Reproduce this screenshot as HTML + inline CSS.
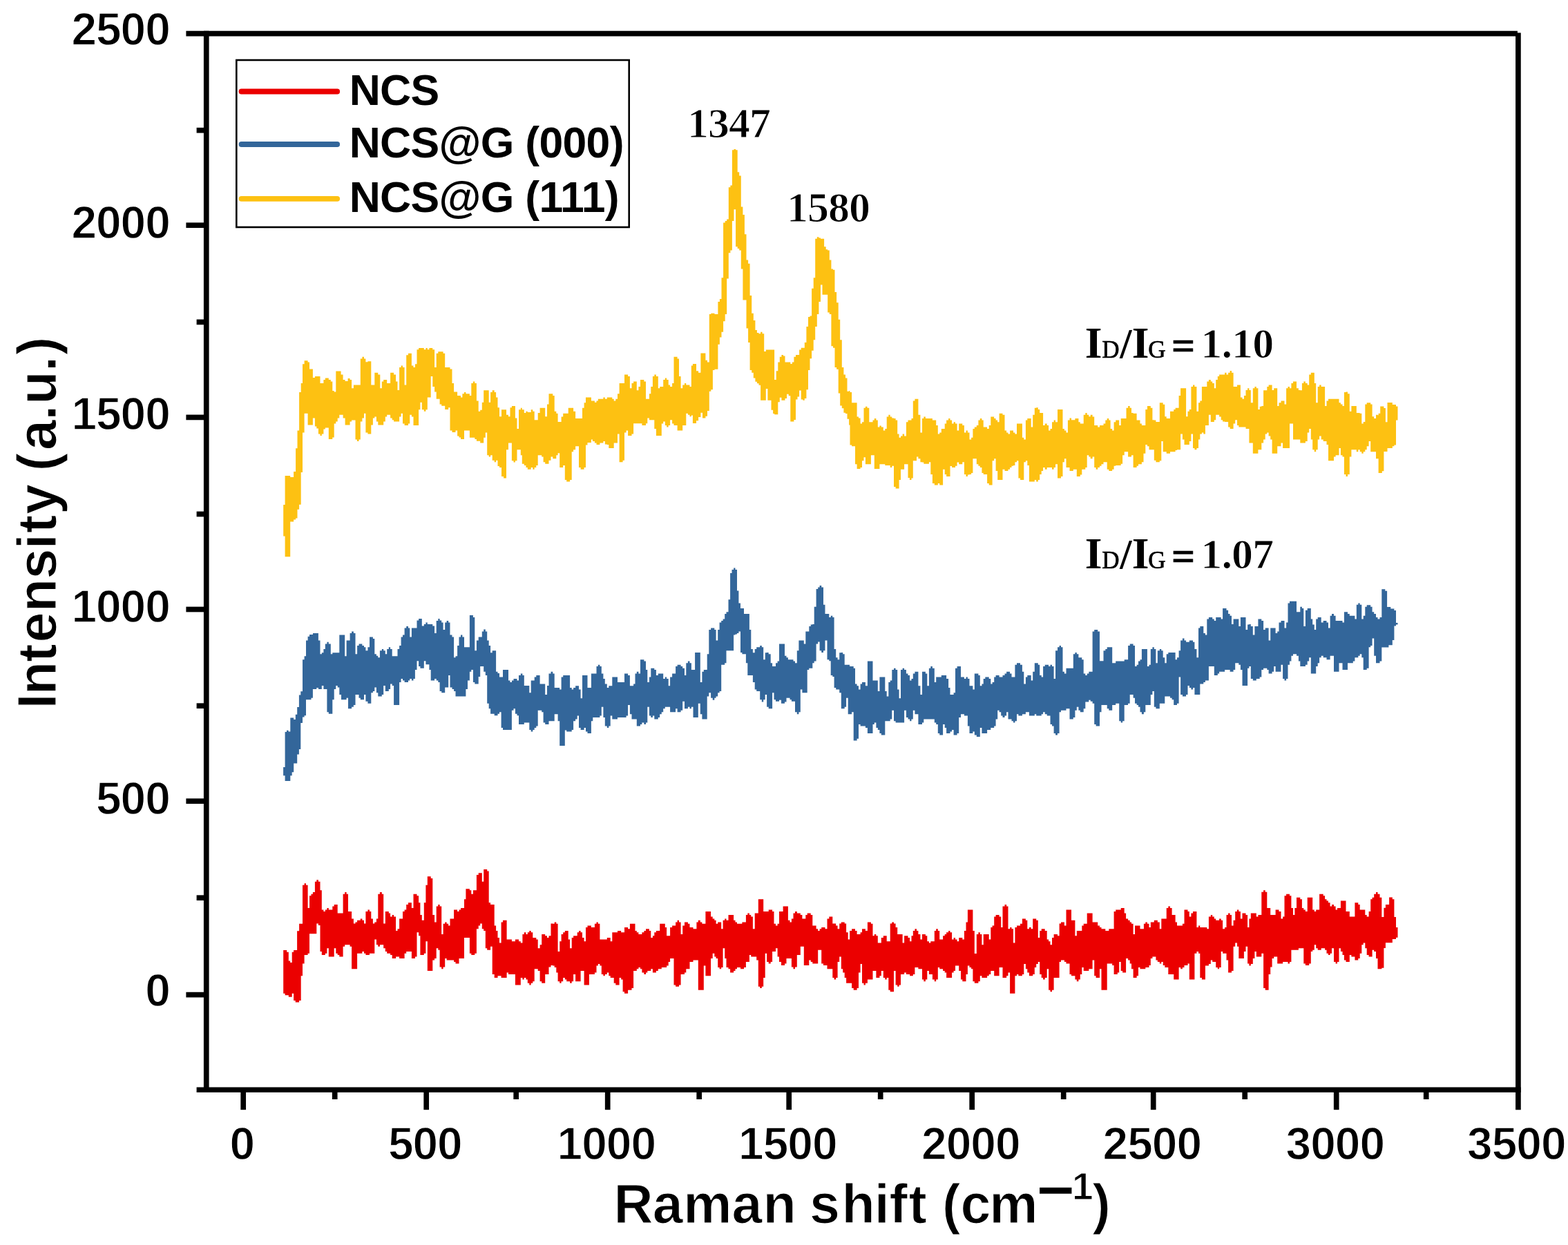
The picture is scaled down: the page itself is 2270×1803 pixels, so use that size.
<!DOCTYPE html>
<html lang="en"><head><meta charset="utf-8"><title>Raman spectra</title>
<style>html,body{margin:0;padding:0;background:#fff}svg{display:block}.t{font-family:"Liberation Sans",sans-serif;font-weight:bold;fill:#000}.k{stroke:#fff;stroke-width:1.3px;stroke-linejoin:round}.s{font-family:"Liberation Serif",serif;font-weight:bold;fill:#000}</style></head><body>
<svg width="2270" height="1803" viewBox="0 0 2270 1803">
<rect x="0" y="0" width="2270" height="1803" fill="#ffffff"/>
<g transform="translate(0.3,0.5)">
<path d="M409.9,1375.6 412.3,1375.6 412.3,1375.6 414.9,1375.6 414.9,1378.2 417.5,1378.2 417.5,1390.9 419.9,1390.9 419.9,1393.5 422.4,1393.5 422.4,1378.2 424.8,1378.2 424.8,1375.6 427.4,1375.6 427.4,1375.6 429.8,1375.6 429.8,1347.8 432.8,1347.8 432.8,1337.3 435.4,1337.3 435.4,1337.3 437.7,1337.3 437.7,1281.3 440.3,1281.3 440.3,1278.7 442.7,1278.7 442.7,1281.3 445.3,1281.3 445.3,1314.5 447.7,1314.5 447.7,1296.8 450.2,1296.8 450.2,1294.2 452.6,1294.2 452.6,1291.6 455.6,1291.6 455.6,1276.3 458.0,1276.3 458.0,1273.7 460.6,1273.7 460.6,1276.3 463.2,1276.3 463.2,1288.8 465.5,1288.8 465.5,1317.0 468.1,1317.0 468.1,1319.6 470.5,1319.6 470.5,1317.0 473.1,1317.0 473.1,1314.5 475.5,1314.5 475.5,1317.0 478.5,1317.0 478.5,1317.0 481.0,1317.0 481.0,1312.1 483.4,1312.1 483.4,1309.5 486.0,1309.5 486.0,1309.5 488.4,1309.5 488.4,1322.0 491.0,1322.0 491.0,1322.0 493.7,1322.0 493.7,1322.0 496.3,1322.0 496.3,1294.2 498.9,1294.2 498.9,1291.6 501.3,1291.6 501.3,1294.2 503.7,1294.2 503.7,1319.6 506.3,1319.6 506.3,1319.6 508.8,1319.6 508.8,1330.0 511.6,1330.0 511.6,1336.9 514.2,1336.9 514.2,1334.9 516.8,1334.9 516.8,1332.3 519.2,1332.3 519.2,1332.3 521.5,1332.3 521.5,1330.0 524.1,1330.0 524.1,1332.3 526.7,1332.3 526.7,1336.9 529.1,1336.9 529.1,1319.6 532.1,1319.6 532.1,1317.0 534.7,1317.0 534.7,1319.6 537.0,1319.6 537.0,1330.0 539.6,1330.0 539.6,1336.9 542.0,1336.9 542.0,1334.9 544.6,1334.9 544.6,1330.0 547.0,1330.0 547.0,1294.2 549.6,1294.2 549.6,1291.6 552.5,1291.6 552.5,1294.2 554.9,1294.2 554.9,1336.9 557.5,1336.9 557.5,1319.6 559.9,1319.6 559.9,1319.6 562.5,1319.6 562.5,1322.0 564.8,1322.0 564.8,1327.0 567.4,1327.0 567.4,1324.6 569.8,1324.6 569.8,1327.0 572.8,1327.0 572.8,1347.4 575.2,1347.4 575.2,1344.8 577.8,1344.8 577.8,1330.0 580.3,1330.0 580.3,1330.0 582.7,1330.0 582.7,1319.6 585.3,1319.6 585.3,1317.0 587.9,1317.0 587.9,1309.5 590.7,1309.5 590.7,1306.7 593.0,1306.7 593.0,1306.7 595.6,1306.7 595.6,1314.5 598.2,1314.5 598.2,1294.2 600.6,1294.2 600.6,1294.2 603.2,1294.2 603.2,1296.8 605.8,1296.8 605.8,1306.7 608.1,1306.7 608.1,1324.6 610.5,1324.6 610.5,1332.3 613.5,1332.3 613.5,1306.7 616.1,1306.7 616.1,1281.3 618.5,1281.3 618.5,1268.8 621.1,1268.8 621.1,1268.8 623.4,1268.8 623.4,1271.4 626.0,1271.4 626.0,1324.6 628.8,1324.6 628.8,1334.9 631.4,1334.9 631.4,1312.1 634.0,1312.1 634.0,1309.5 636.3,1309.5 636.3,1312.1 638.9,1312.1 638.9,1352.4 641.3,1352.4 641.3,1337.3 643.9,1337.3 643.9,1334.9 646.3,1334.9 646.3,1337.3 648.9,1337.3 648.9,1339.9 651.2,1339.9 651.2,1330.0 654.2,1330.0 654.2,1330.0 656.8,1330.0 656.8,1317.0 659.2,1317.0 659.2,1317.0 661.8,1317.0 661.8,1319.6 664.2,1319.6 664.2,1317.0 666.7,1317.0 666.7,1314.5 669.1,1314.5 669.1,1314.5 671.7,1314.5 671.7,1301.7 674.1,1301.7 674.1,1286.7 676.7,1286.7 676.7,1286.7 679.6,1286.7 679.6,1288.8 682.0,1288.8 682.0,1294.2 684.6,1294.2 684.6,1288.8 687.0,1288.8 687.0,1288.8 689.6,1288.8 689.6,1266.4 692.4,1266.4 692.4,1263.8 694.9,1263.8 694.9,1263.8 697.5,1263.8 697.5,1276.3 699.9,1276.3 699.9,1258.5 702.5,1258.5 702.5,1258.5 704.9,1258.5 704.9,1261.0 707.4,1261.0 707.4,1306.7 709.8,1306.7 709.8,1309.5 712.4,1309.5 712.4,1309.5 715.4,1309.5 715.4,1339.9 717.8,1339.9 717.8,1347.4 720.2,1347.4 720.2,1357.4 722.7,1357.4 722.7,1365.1 725.3,1365.1 725.3,1334.9 727.7,1334.9 727.7,1332.3 730.7,1332.3 730.7,1332.3 733.3,1332.3 733.3,1360.1 735.7,1360.1 735.7,1360.1 738.2,1360.1 738.2,1360.1 740.6,1360.1 740.6,1362.7 743.2,1362.7 743.2,1362.7 745.6,1362.7 745.6,1360.1 748.2,1360.1 748.2,1360.1 750.7,1360.1 750.7,1362.7 753.5,1362.7 753.5,1365.1 756.1,1365.1 756.1,1352.4 758.5,1352.4 758.5,1349.8 761.1,1349.8 761.1,1352.4 763.5,1352.4 763.5,1349.8 766.0,1349.8 766.0,1347.4 768.4,1347.4 768.4,1349.8 771.0,1349.8 771.0,1357.4 773.4,1357.4 773.4,1357.4 776.0,1357.4 776.0,1360.1 778.4,1360.1 778.4,1372.7 781.3,1372.7 781.3,1367.7 783.9,1367.7 783.9,1352.4 786.3,1352.4 786.3,1352.4 788.9,1352.4 788.9,1354.8 791.7,1354.8 791.7,1357.4 794.2,1357.4 794.2,1354.8 797.2,1354.8 797.2,1336.9 800.0,1336.9 800.0,1337.3 802.4,1337.3 802.4,1334.9 805.0,1334.9 805.0,1337.3 807.3,1337.3 807.3,1377.6 809.9,1377.6 809.9,1362.7 812.3,1362.7 812.3,1352.4 814.9,1352.4 814.9,1349.8 817.5,1349.8 817.5,1347.4 819.9,1347.4 819.9,1347.4 822.4,1347.4 822.4,1360.1 824.8,1360.1 824.8,1372.7 827.4,1372.7 827.4,1357.4 829.8,1357.4 829.8,1354.8 832.8,1354.8 832.8,1354.8 835.4,1354.8 835.4,1349.8 837.7,1349.8 837.7,1347.4 840.3,1347.4 840.3,1349.8 842.7,1349.8 842.7,1357.4 845.3,1357.4 845.3,1362.7 847.7,1362.7 847.7,1342.5 850.2,1342.5 850.2,1339.9 852.6,1339.9 852.6,1339.9 855.6,1339.9 855.6,1342.5 858.0,1342.5 858.0,1342.5 860.6,1342.5 860.6,1337.3 863.2,1337.3 863.2,1334.9 865.5,1334.9 865.5,1337.3 868.1,1337.3 868.1,1360.1 870.5,1360.1 870.5,1360.1 873.1,1360.1 873.1,1360.1 875.5,1360.1 875.5,1360.1 878.5,1360.1 878.5,1357.4 881.0,1357.4 881.0,1357.4 883.4,1357.4 883.4,1362.7 886.0,1362.7 886.0,1349.8 888.4,1349.8 888.4,1349.8 891.0,1349.8 891.0,1349.8 893.7,1349.8 893.7,1347.4 896.3,1347.4 896.3,1347.4 898.9,1347.4 898.9,1349.8 901.3,1349.8 901.3,1349.8 903.7,1349.8 903.7,1342.5 906.3,1342.5 906.3,1342.5 908.8,1342.5 908.8,1344.8 911.6,1344.8 911.6,1337.3 914.2,1337.3 914.2,1337.3 916.8,1337.3 916.8,1337.3 919.2,1337.3 919.2,1347.4 921.5,1347.4 921.5,1349.8 924.1,1349.8 924.1,1352.4 926.7,1352.4 926.7,1352.4 929.1,1352.4 929.1,1349.8 932.1,1349.8 932.1,1347.4 934.7,1347.4 934.7,1344.8 937.0,1344.8 937.0,1344.8 939.6,1344.8 939.6,1347.4 942.0,1347.4 942.0,1357.4 944.6,1357.4 944.6,1354.8 947.0,1354.8 947.0,1349.8 949.6,1349.8 949.6,1347.4 952.5,1347.4 952.5,1347.4 954.9,1347.4 954.9,1337.3 957.5,1337.3 957.5,1337.3 959.9,1337.3 959.9,1337.3 962.5,1337.3 962.5,1342.5 964.8,1342.5 964.8,1354.8 967.4,1354.8 967.4,1354.8 969.8,1354.8 969.8,1342.5 972.8,1342.5 972.8,1339.9 975.2,1339.9 975.2,1339.9 977.8,1339.9 977.8,1334.9 980.3,1334.9 980.3,1332.3 982.7,1332.3 982.7,1334.9 985.3,1334.9 985.3,1352.4 987.9,1352.4 987.9,1339.9 990.7,1339.9 990.7,1334.9 993.0,1334.9 993.0,1334.9 995.6,1334.9 995.6,1337.3 998.2,1337.3 998.2,1342.5 1000.6,1342.5 1000.6,1342.5 1003.2,1342.5 1003.2,1344.8 1005.8,1344.8 1005.8,1344.8 1008.1,1344.8 1008.1,1334.9 1010.5,1334.9 1010.5,1332.3 1013.5,1332.3 1013.5,1334.9 1016.1,1334.9 1016.1,1337.3 1018.5,1337.3 1018.5,1337.3 1021.1,1337.3 1021.1,1319.6 1023.4,1319.6 1023.4,1319.6 1026.0,1319.6 1026.0,1319.6 1028.8,1319.6 1028.8,1327.0 1031.4,1327.0 1031.4,1330.0 1034.0,1330.0 1034.0,1332.3 1036.3,1332.3 1036.3,1337.3 1038.9,1337.3 1038.9,1334.9 1041.3,1334.9 1041.3,1334.9 1043.9,1334.9 1043.9,1344.8 1046.3,1344.8 1046.3,1332.3 1048.9,1332.3 1048.9,1330.0 1051.2,1330.0 1051.2,1332.3 1054.2,1332.3 1054.2,1324.6 1056.8,1324.6 1056.8,1324.6 1059.2,1324.6 1059.2,1324.6 1061.8,1324.6 1061.8,1332.3 1064.2,1332.3 1064.2,1334.9 1066.7,1334.9 1066.7,1337.3 1069.1,1337.3 1069.1,1337.3 1071.7,1337.3 1071.7,1337.3 1074.1,1337.3 1074.1,1334.9 1076.7,1334.9 1076.7,1334.9 1079.6,1334.9 1079.6,1324.6 1082.0,1324.6 1082.0,1322.0 1084.6,1322.0 1084.6,1324.6 1087.0,1324.6 1087.0,1327.0 1089.6,1327.0 1089.6,1344.8 1092.4,1344.8 1092.4,1322.0 1094.9,1322.0 1094.9,1322.0 1097.5,1322.0 1097.5,1301.7 1099.9,1301.7 1099.9,1301.7 1102.5,1301.7 1102.5,1301.7 1104.9,1301.7 1104.9,1319.6 1107.4,1319.6 1107.4,1319.6 1109.8,1319.6 1109.8,1319.6 1112.4,1319.6 1112.4,1317.0 1115.4,1317.0 1115.4,1317.0 1117.8,1317.0 1117.8,1319.6 1120.2,1319.6 1120.2,1337.3 1122.7,1337.3 1122.7,1339.9 1125.3,1339.9 1125.3,1337.3 1127.7,1337.3 1127.7,1319.6 1130.7,1319.6 1130.7,1319.6 1133.3,1319.6 1133.3,1312.1 1135.7,1312.1 1135.7,1312.1 1138.2,1312.1 1138.2,1312.1 1140.6,1312.1 1140.6,1332.3 1143.2,1332.3 1143.2,1334.9 1145.6,1334.9 1145.6,1330.0 1148.2,1330.0 1148.2,1322.0 1150.7,1322.0 1150.7,1319.6 1153.5,1319.6 1153.5,1322.0 1156.1,1322.0 1156.1,1322.0 1158.5,1322.0 1158.5,1324.6 1161.1,1324.6 1161.1,1330.0 1163.5,1330.0 1163.5,1330.0 1166.0,1330.0 1166.0,1324.6 1168.4,1324.6 1168.4,1322.0 1171.0,1322.0 1171.0,1322.0 1173.4,1322.0 1173.4,1324.6 1176.0,1324.6 1176.0,1339.9 1178.4,1339.9 1178.4,1339.9 1181.3,1339.9 1181.3,1344.8 1183.9,1344.8 1183.9,1347.4 1186.3,1347.4 1186.3,1344.8 1188.9,1344.8 1188.9,1342.5 1191.7,1342.5 1191.7,1342.5 1194.2,1342.5 1194.2,1344.8 1197.2,1344.8 1197.2,1330.0 1200.0,1330.0 1200.0,1327.0 1202.4,1327.0 1202.4,1327.0 1205.0,1327.0 1205.0,1336.9 1207.3,1336.9 1207.3,1336.9 1209.9,1336.9 1209.9,1339.9 1212.3,1339.9 1212.3,1344.8 1214.9,1344.8 1214.9,1336.9 1217.5,1336.9 1217.5,1334.9 1219.9,1334.9 1219.9,1334.9 1222.4,1334.9 1222.4,1336.9 1224.8,1336.9 1224.8,1349.8 1227.4,1349.8 1227.4,1360.1 1229.8,1360.1 1229.8,1347.4 1232.8,1347.4 1232.8,1344.8 1235.4,1344.8 1235.4,1344.8 1237.7,1344.8 1237.7,1347.4 1240.3,1347.4 1240.3,1352.4 1242.7,1352.4 1242.7,1352.4 1245.3,1352.4 1245.3,1349.8 1247.7,1349.8 1247.7,1344.8 1250.2,1344.8 1250.2,1344.8 1252.6,1344.8 1252.6,1347.4 1255.6,1347.4 1255.6,1334.9 1258.0,1334.9 1258.0,1334.9 1260.6,1334.9 1260.6,1337.3 1263.2,1337.3 1263.2,1354.8 1265.5,1354.8 1265.5,1352.4 1268.1,1352.4 1268.1,1354.8 1270.5,1354.8 1270.5,1365.1 1273.1,1365.1 1273.1,1365.1 1275.5,1365.1 1275.5,1357.4 1278.5,1357.4 1278.5,1354.8 1281.0,1354.8 1281.0,1354.8 1283.4,1354.8 1283.4,1362.7 1286.0,1362.7 1286.0,1362.7 1288.4,1362.7 1288.4,1336.9 1291.0,1336.9 1291.0,1334.9 1293.7,1334.9 1293.7,1336.9 1296.3,1336.9 1296.3,1342.5 1298.9,1342.5 1298.9,1352.4 1301.3,1352.4 1301.3,1352.4 1303.7,1352.4 1303.7,1352.4 1306.3,1352.4 1306.3,1365.1 1308.8,1365.1 1308.8,1354.8 1311.6,1354.8 1311.6,1354.8 1314.2,1354.8 1314.2,1357.4 1316.8,1357.4 1316.8,1362.7 1319.2,1362.7 1319.2,1354.8 1321.5,1354.8 1321.5,1347.4 1324.1,1347.4 1324.1,1344.8 1326.7,1344.8 1326.7,1347.4 1329.1,1347.4 1329.1,1352.4 1332.1,1352.4 1332.1,1360.1 1334.7,1360.1 1334.7,1352.4 1337.0,1352.4 1337.0,1352.4 1339.6,1352.4 1339.6,1354.8 1342.0,1354.8 1342.0,1362.7 1344.6,1362.7 1344.6,1365.1 1347.0,1365.1 1347.0,1362.7 1349.6,1362.7 1349.6,1362.7 1352.5,1362.7 1352.5,1347.4 1354.9,1347.4 1354.9,1344.8 1357.5,1344.8 1357.5,1347.4 1359.9,1347.4 1359.9,1360.1 1362.5,1360.1 1362.5,1360.1 1364.8,1360.1 1364.8,1354.8 1367.4,1354.8 1367.4,1352.4 1369.8,1352.4 1369.8,1349.8 1372.8,1349.8 1372.8,1347.4 1375.2,1347.4 1375.2,1349.8 1377.8,1349.8 1377.8,1360.1 1380.3,1360.1 1380.3,1357.4 1382.7,1357.4 1382.7,1360.1 1385.3,1360.1 1385.3,1362.7 1387.9,1362.7 1387.9,1357.4 1390.7,1357.4 1390.7,1357.4 1393.0,1357.4 1393.0,1360.1 1395.6,1360.1 1395.6,1347.4 1398.2,1347.4 1398.2,1334.9 1400.6,1334.9 1400.6,1317.0 1403.2,1317.0 1403.2,1317.0 1405.8,1317.0 1405.8,1317.0 1408.1,1317.0 1408.1,1347.4 1410.5,1347.4 1410.5,1380.6 1413.5,1380.6 1413.5,1352.4 1416.1,1352.4 1416.1,1349.8 1418.5,1349.8 1418.5,1352.4 1421.1,1352.4 1421.1,1367.7 1423.4,1367.7 1423.4,1352.4 1426.0,1352.4 1426.0,1352.4 1428.8,1352.4 1428.8,1352.4 1431.4,1352.4 1431.4,1360.1 1434.0,1360.1 1434.0,1342.5 1436.3,1342.5 1436.3,1339.9 1438.9,1339.9 1438.9,1327.0 1441.3,1327.0 1441.3,1324.6 1443.9,1324.6 1443.9,1324.6 1446.3,1324.6 1446.3,1327.0 1448.9,1327.0 1448.9,1342.5 1451.2,1342.5 1451.2,1312.1 1454.2,1312.1 1454.2,1309.5 1456.8,1309.5 1456.8,1312.1 1459.2,1312.1 1459.2,1344.8 1461.8,1344.8 1461.8,1342.5 1464.2,1342.5 1464.2,1344.8 1466.7,1344.8 1466.7,1365.1 1469.1,1365.1 1469.1,1342.5 1471.7,1342.5 1471.7,1339.9 1474.1,1339.9 1474.1,1339.9 1476.7,1339.9 1476.7,1337.3 1479.6,1337.3 1479.6,1330.0 1482.0,1330.0 1482.0,1330.0 1484.6,1330.0 1484.6,1332.3 1487.0,1332.3 1487.0,1344.8 1489.6,1344.8 1489.6,1342.5 1492.4,1342.5 1492.4,1344.8 1494.9,1344.8 1494.9,1330.0 1497.5,1330.0 1497.5,1330.0 1499.9,1330.0 1499.9,1332.3 1502.5,1332.3 1502.5,1357.4 1504.9,1357.4 1504.9,1347.4 1507.4,1347.4 1507.4,1344.8 1509.8,1344.8 1509.8,1344.8 1512.4,1344.8 1512.4,1347.4 1515.4,1347.4 1515.4,1360.1 1517.8,1360.1 1517.8,1362.7 1520.2,1362.7 1520.2,1367.7 1522.7,1367.7 1522.7,1357.4 1525.3,1357.4 1525.3,1352.4 1527.7,1352.4 1527.7,1352.4 1530.7,1352.4 1530.7,1354.8 1533.3,1354.8 1533.3,1336.9 1535.7,1336.9 1535.7,1334.9 1538.2,1334.9 1538.2,1334.9 1540.6,1334.9 1540.6,1339.9 1543.2,1339.9 1543.2,1317.0 1545.6,1317.0 1545.6,1317.0 1548.2,1317.0 1548.2,1317.0 1550.7,1317.0 1550.7,1332.3 1553.5,1332.3 1553.5,1332.3 1556.1,1332.3 1556.1,1354.8 1558.5,1354.8 1558.5,1347.4 1561.1,1347.4 1561.1,1347.4 1563.5,1347.4 1563.5,1347.4 1566.0,1347.4 1566.0,1339.9 1568.4,1339.9 1568.4,1337.3 1571.0,1337.3 1571.0,1337.3 1573.4,1337.3 1573.4,1322.0 1576.0,1322.0 1576.0,1322.0 1578.4,1322.0 1578.4,1322.0 1581.3,1322.0 1581.3,1334.9 1583.9,1334.9 1583.9,1334.9 1586.3,1334.9 1586.3,1334.9 1588.9,1334.9 1588.9,1339.9 1591.7,1339.9 1591.7,1342.5 1594.2,1342.5 1594.2,1344.8 1597.2,1344.8 1597.2,1344.8 1600.0,1344.8 1600.0,1347.4 1602.4,1347.4 1602.4,1347.4 1605.0,1347.4 1605.0,1344.8 1607.3,1344.8 1607.3,1344.8 1609.9,1344.8 1609.9,1344.8 1612.3,1344.8 1612.3,1319.6 1614.9,1319.6 1614.9,1317.0 1617.5,1317.0 1617.5,1317.0 1619.9,1317.0 1619.9,1317.0 1622.4,1317.0 1622.4,1314.5 1624.8,1314.5 1624.8,1314.5 1627.4,1314.5 1627.4,1322.0 1629.8,1322.0 1629.8,1330.0 1632.8,1330.0 1632.8,1332.3 1635.4,1332.3 1635.4,1334.9 1637.7,1334.9 1637.7,1337.3 1640.3,1337.3 1640.3,1352.4 1642.7,1352.4 1642.7,1339.9 1645.3,1339.9 1645.3,1339.9 1647.7,1339.9 1647.7,1339.9 1650.2,1339.9 1650.2,1344.8 1652.6,1344.8 1652.6,1344.8 1655.6,1344.8 1655.6,1337.3 1658.0,1337.3 1658.0,1334.9 1660.6,1334.9 1660.6,1337.3 1663.2,1337.3 1663.2,1342.5 1665.5,1342.5 1665.5,1334.9 1668.1,1334.9 1668.1,1334.9 1670.5,1334.9 1670.5,1332.3 1673.1,1332.3 1673.1,1332.3 1675.5,1332.3 1675.5,1334.9 1678.5,1334.9 1678.5,1344.8 1681.0,1344.8 1681.0,1330.0 1683.4,1330.0 1683.4,1330.0 1686.0,1330.0 1686.0,1330.0 1688.4,1330.0 1688.4,1314.5 1691.0,1314.5 1691.0,1312.1 1693.7,1312.1 1693.7,1314.5 1696.3,1314.5 1696.3,1324.6 1698.9,1324.6 1698.9,1324.6 1701.3,1324.6 1701.3,1334.9 1703.7,1334.9 1703.7,1339.9 1706.3,1339.9 1706.3,1339.9 1708.8,1339.9 1708.8,1339.9 1711.6,1339.9 1711.6,1337.3 1714.2,1337.3 1714.2,1317.0 1716.8,1317.0 1716.8,1317.0 1719.2,1317.0 1719.2,1319.6 1721.5,1319.6 1721.5,1327.0 1724.1,1327.0 1724.1,1322.0 1726.7,1322.0 1726.7,1319.6 1729.1,1319.6 1729.1,1319.6 1732.1,1319.6 1732.1,1342.5 1734.7,1342.5 1734.7,1339.9 1737.0,1339.9 1737.0,1342.5 1739.6,1342.5 1739.6,1342.5 1742.0,1342.5 1742.0,1342.5 1744.6,1342.5 1744.6,1342.5 1747.0,1342.5 1747.0,1344.8 1749.6,1344.8 1749.6,1327.0 1752.5,1327.0 1752.5,1324.6 1754.9,1324.6 1754.9,1327.0 1757.5,1327.0 1757.5,1330.0 1759.9,1330.0 1759.9,1332.3 1762.5,1332.3 1762.5,1332.3 1764.8,1332.3 1764.8,1330.0 1767.4,1330.0 1767.4,1332.3 1769.8,1332.3 1769.8,1344.8 1772.8,1344.8 1772.8,1342.5 1775.2,1342.5 1775.2,1324.6 1777.8,1324.6 1777.8,1322.0 1780.3,1322.0 1780.3,1324.6 1782.7,1324.6 1782.7,1339.9 1785.3,1339.9 1785.3,1332.3 1787.9,1332.3 1787.9,1319.6 1790.7,1319.6 1790.7,1317.0 1793.0,1317.0 1793.0,1319.6 1795.6,1319.6 1795.6,1330.0 1798.2,1330.0 1798.2,1322.0 1800.6,1322.0 1800.6,1322.0 1803.2,1322.0 1803.2,1324.6 1805.8,1324.6 1805.8,1342.5 1808.1,1342.5 1808.1,1330.0 1810.5,1330.0 1810.5,1322.0 1813.5,1322.0 1813.5,1322.0 1816.1,1322.0 1816.1,1322.0 1818.5,1322.0 1818.5,1327.0 1821.1,1327.0 1821.1,1324.6 1823.4,1324.6 1823.4,1324.6 1826.0,1324.6 1826.0,1291.2 1828.8,1291.2 1828.8,1288.8 1831.4,1288.8 1831.4,1291.2 1834.0,1291.2 1834.0,1314.5 1836.3,1314.5 1836.3,1314.5 1838.9,1314.5 1838.9,1324.6 1841.3,1324.6 1841.3,1324.6 1843.9,1324.6 1843.9,1324.6 1846.3,1324.6 1846.3,1317.0 1848.9,1317.0 1848.9,1317.0 1851.2,1317.0 1851.2,1319.6 1854.2,1319.6 1854.2,1330.0 1856.8,1330.0 1856.8,1327.0 1859.2,1327.0 1859.2,1296.8 1861.8,1296.8 1861.8,1294.2 1864.2,1294.2 1864.2,1294.2 1866.7,1294.2 1866.7,1296.8 1869.1,1296.8 1869.1,1314.5 1871.7,1314.5 1871.7,1324.6 1874.1,1324.6 1874.1,1314.5 1876.7,1314.5 1876.7,1299.2 1879.6,1299.2 1879.6,1299.2 1882.0,1299.2 1882.0,1301.7 1884.6,1301.7 1884.6,1314.5 1887.0,1314.5 1887.0,1317.0 1889.6,1317.0 1889.6,1319.6 1892.4,1319.6 1892.4,1299.2 1894.9,1299.2 1894.9,1299.2 1897.5,1299.2 1897.5,1299.2 1899.9,1299.2 1899.9,1317.0 1902.5,1317.0 1902.5,1319.6 1904.9,1319.6 1904.9,1317.0 1907.4,1317.0 1907.4,1317.0 1909.8,1317.0 1909.8,1294.2 1912.4,1294.2 1912.4,1294.2 1915.4,1294.2 1915.4,1296.8 1917.8,1296.8 1917.8,1301.7 1920.2,1301.7 1920.2,1304.1 1922.7,1304.1 1922.7,1306.7 1925.3,1306.7 1925.3,1312.1 1927.7,1312.1 1927.7,1309.5 1930.7,1309.5 1930.7,1312.1 1933.3,1312.1 1933.3,1317.0 1935.7,1317.0 1935.7,1314.5 1938.2,1314.5 1938.2,1314.5 1940.6,1314.5 1940.6,1304.1 1943.2,1304.1 1943.2,1304.1 1945.6,1304.1 1945.6,1304.1 1948.2,1304.1 1948.2,1319.6 1950.7,1319.6 1950.7,1319.6 1953.5,1319.6 1953.5,1327.0 1956.1,1327.0 1956.1,1327.0 1958.5,1327.0 1958.5,1327.0 1961.1,1327.0 1961.1,1306.7 1963.5,1306.7 1963.5,1306.7 1966.0,1306.7 1966.0,1309.5 1968.4,1309.5 1968.4,1317.0 1971.0,1317.0 1971.0,1317.0 1973.4,1317.0 1973.4,1317.0 1976.0,1317.0 1976.0,1324.6 1978.4,1324.6 1978.4,1327.0 1981.3,1327.0 1981.3,1319.6 1983.9,1319.6 1983.9,1301.7 1986.3,1301.7 1986.3,1299.2 1988.9,1299.2 1988.9,1294.2 1991.7,1294.2 1991.7,1291.6 1994.2,1291.6 1994.2,1294.2 1997.2,1294.2 1997.2,1299.2 2000.0,1299.2 2000.0,1327.4 2003.1,1327.4 2003.1,1314.3 2005.6,1314.3 2005.6,1309.4 2010.8,1309.4 2010.8,1299.1 2015.5,1299.1 2015.5,1301.7 2018.1,1301.7 2018.1,1327.4 2020.7,1327.4 2020.7,1342.4 2023.2,1342.4 2023.2,1357.2 2020.7,1357.2 2020.7,1359.5 2018.1,1359.5 2018.1,1359.5 2015.5,1359.5 2015.5,1364.7 2010.8,1364.7 2010.8,1364.7 2005.6,1364.7 2005.6,1372.4 2003.1,1372.4 2003.1,1401.3 2000.0,1401.3 2000.0,1402.8 1997.2,1402.8 1997.2,1402.8 1994.2,1402.8 1994.2,1387.5 1991.7,1387.5 1991.7,1377.6 1988.9,1377.6 1988.9,1375.2 1986.3,1375.2 1986.3,1385.0 1983.9,1385.0 1983.9,1385.0 1981.3,1385.0 1981.3,1382.6 1978.4,1382.6 1978.4,1372.7 1976.0,1372.7 1976.0,1365.1 1973.4,1365.1 1973.4,1367.7 1971.0,1367.7 1971.0,1380.2 1968.4,1380.2 1968.4,1387.5 1966.0,1387.5 1966.0,1390.1 1963.5,1390.1 1963.5,1390.1 1961.1,1390.1 1961.1,1385.0 1958.5,1385.0 1958.5,1385.0 1956.1,1385.0 1956.1,1382.6 1953.5,1382.6 1953.5,1392.5 1950.7,1392.5 1950.7,1392.5 1948.2,1392.5 1948.2,1390.1 1945.6,1390.1 1945.6,1382.6 1943.2,1382.6 1943.2,1377.6 1940.6,1377.6 1940.6,1372.7 1938.2,1372.7 1938.2,1392.5 1935.7,1392.5 1935.7,1395.1 1933.3,1395.1 1933.3,1392.5 1930.7,1392.5 1930.7,1372.7 1927.7,1372.7 1927.7,1380.2 1925.3,1380.2 1925.3,1382.6 1922.7,1382.6 1922.7,1380.2 1920.2,1380.2 1920.2,1375.2 1917.8,1375.2 1917.8,1372.7 1915.4,1372.7 1915.4,1372.7 1912.4,1372.7 1912.4,1375.2 1909.8,1375.2 1909.8,1375.2 1907.4,1375.2 1907.4,1372.7 1904.9,1372.7 1904.9,1367.7 1902.5,1367.7 1902.5,1375.2 1899.9,1375.2 1899.9,1377.6 1897.5,1377.6 1897.5,1395.1 1894.9,1395.1 1894.9,1397.5 1892.4,1397.5 1892.4,1397.5 1889.6,1397.5 1889.6,1395.1 1887.0,1395.1 1887.0,1372.7 1884.6,1372.7 1884.6,1372.7 1882.0,1372.7 1882.0,1372.7 1879.6,1372.7 1879.6,1375.2 1876.7,1375.2 1876.7,1375.2 1874.1,1375.2 1874.1,1375.2 1871.7,1375.2 1871.7,1375.2 1869.1,1375.2 1869.1,1392.5 1866.7,1392.5 1866.7,1395.1 1864.2,1395.1 1864.2,1392.5 1861.8,1392.5 1861.8,1392.5 1859.2,1392.5 1859.2,1392.5 1856.8,1392.5 1856.8,1395.1 1854.2,1395.1 1854.2,1395.1 1851.2,1395.1 1851.2,1395.1 1848.9,1395.1 1848.9,1385.0 1846.3,1385.0 1846.3,1385.0 1843.9,1385.0 1843.9,1387.5 1841.3,1387.5 1841.3,1400.1 1838.9,1400.1 1838.9,1410.4 1836.3,1410.4 1836.3,1433.2 1834.0,1433.2 1834.0,1433.2 1831.4,1433.2 1831.4,1430.6 1828.8,1430.6 1828.8,1380.2 1826.0,1380.2 1826.0,1385.0 1823.4,1385.0 1823.4,1385.0 1821.1,1385.0 1821.1,1385.0 1818.5,1385.0 1818.5,1377.6 1816.1,1377.6 1816.1,1387.5 1813.5,1387.5 1813.5,1395.5 1810.5,1395.5 1810.5,1398.1 1808.1,1398.1 1808.1,1395.1 1805.8,1395.1 1805.8,1370.3 1803.2,1370.3 1803.2,1377.6 1800.6,1377.6 1800.6,1387.5 1798.2,1387.5 1798.2,1387.5 1795.6,1387.5 1795.6,1387.5 1793.0,1387.5 1793.0,1370.3 1790.7,1370.3 1790.7,1365.1 1787.9,1365.1 1787.9,1370.3 1785.3,1370.3 1785.3,1405.4 1782.7,1405.4 1782.7,1408.0 1780.3,1408.0 1780.3,1408.0 1777.8,1408.0 1777.8,1390.1 1775.2,1390.1 1775.2,1380.2 1772.8,1380.2 1772.8,1380.2 1769.8,1380.2 1769.8,1377.6 1767.4,1377.6 1767.4,1400.5 1764.8,1400.5 1764.8,1402.8 1762.5,1402.8 1762.5,1400.5 1759.9,1400.5 1759.9,1392.5 1757.5,1392.5 1757.5,1392.5 1754.9,1392.5 1754.9,1390.1 1752.5,1390.1 1752.5,1395.5 1749.6,1395.5 1749.6,1398.1 1747.0,1398.1 1747.0,1398.1 1744.6,1398.1 1744.6,1417.9 1742.0,1417.9 1742.0,1417.9 1739.6,1417.9 1739.6,1415.4 1737.0,1415.4 1737.0,1380.2 1734.7,1380.2 1734.7,1377.6 1732.1,1377.6 1732.1,1380.2 1729.1,1380.2 1729.1,1417.9 1726.7,1417.9 1726.7,1417.9 1724.1,1417.9 1724.1,1417.9 1721.5,1417.9 1721.5,1395.1 1719.2,1395.1 1719.2,1397.5 1716.8,1397.5 1716.8,1397.5 1714.2,1397.5 1714.2,1400.5 1711.6,1400.5 1711.6,1402.8 1708.8,1402.8 1708.8,1400.5 1706.3,1400.5 1706.3,1417.9 1703.7,1417.9 1703.7,1417.9 1701.3,1417.9 1701.3,1417.9 1698.9,1417.9 1698.9,1410.4 1696.3,1410.4 1696.3,1410.4 1693.7,1410.4 1693.7,1410.4 1691.0,1410.4 1691.0,1400.5 1688.4,1400.5 1688.4,1400.5 1686.0,1400.5 1686.0,1397.5 1683.4,1397.5 1683.4,1392.5 1681.0,1392.5 1681.0,1395.1 1678.5,1395.1 1678.5,1392.5 1675.5,1392.5 1675.5,1390.1 1673.1,1390.1 1673.1,1385.0 1670.5,1385.0 1670.5,1385.0 1668.1,1385.0 1668.1,1387.5 1665.5,1387.5 1665.5,1397.5 1663.2,1397.5 1663.2,1400.5 1660.6,1400.5 1660.6,1400.5 1658.0,1400.5 1658.0,1402.8 1655.6,1402.8 1655.6,1402.8 1652.6,1402.8 1652.6,1402.8 1650.2,1402.8 1650.2,1400.5 1647.7,1400.5 1647.7,1412.8 1645.3,1412.8 1645.3,1415.4 1642.7,1415.4 1642.7,1415.4 1640.3,1415.4 1640.3,1402.8 1637.7,1402.8 1637.7,1395.1 1635.4,1395.1 1635.4,1390.1 1632.8,1390.1 1632.8,1387.5 1629.8,1387.5 1629.8,1408.0 1627.4,1408.0 1627.4,1408.0 1624.8,1408.0 1624.8,1405.4 1622.4,1405.4 1622.4,1392.5 1619.9,1392.5 1619.9,1408.0 1617.5,1408.0 1617.5,1410.4 1614.9,1410.4 1614.9,1410.4 1612.3,1410.4 1612.3,1397.5 1609.9,1397.5 1609.9,1395.1 1607.3,1395.1 1607.3,1395.1 1605.0,1395.1 1605.0,1395.1 1602.4,1395.1 1602.4,1433.2 1600.0,1433.2 1600.0,1433.2 1597.2,1433.2 1597.2,1433.2 1594.2,1433.2 1594.2,1402.8 1591.7,1402.8 1591.7,1415.4 1588.9,1415.4 1588.9,1415.4 1586.3,1415.4 1586.3,1412.8 1583.9,1412.8 1583.9,1390.1 1581.3,1390.1 1581.3,1402.8 1578.4,1402.8 1578.4,1402.8 1576.0,1402.8 1576.0,1405.4 1573.4,1405.4 1573.4,1405.4 1571.0,1405.4 1571.0,1405.4 1568.4,1405.4 1568.4,1400.5 1566.0,1400.5 1566.0,1410.4 1563.5,1410.4 1563.5,1417.9 1561.1,1417.9 1561.1,1420.7 1558.5,1420.7 1558.5,1417.9 1556.1,1417.9 1556.1,1412.8 1553.5,1412.8 1553.5,1412.8 1550.7,1412.8 1550.7,1410.4 1548.2,1410.4 1548.2,1395.1 1545.6,1395.1 1545.6,1395.1 1543.2,1395.1 1543.2,1392.5 1540.6,1392.5 1540.6,1390.1 1538.2,1390.1 1538.2,1390.1 1535.7,1390.1 1535.7,1392.5 1533.3,1392.5 1533.3,1415.4 1530.7,1415.4 1530.7,1415.4 1527.7,1415.4 1527.7,1415.4 1525.3,1415.4 1525.3,1433.2 1522.7,1433.2 1522.7,1435.8 1520.2,1435.8 1520.2,1433.2 1517.8,1433.2 1517.8,1402.8 1515.4,1402.8 1515.4,1415.4 1512.4,1415.4 1512.4,1417.9 1509.8,1417.9 1509.8,1415.4 1507.4,1415.4 1507.4,1410.4 1504.9,1410.4 1504.9,1392.5 1502.5,1392.5 1502.5,1395.5 1499.9,1395.5 1499.9,1400.5 1497.5,1400.5 1497.5,1410.4 1494.9,1410.4 1494.9,1412.8 1492.4,1412.8 1492.4,1412.8 1489.6,1412.8 1489.6,1408.0 1487.0,1408.0 1487.0,1402.8 1484.6,1402.8 1484.6,1395.5 1482.0,1395.5 1482.0,1410.4 1479.6,1410.4 1479.6,1412.8 1476.7,1412.8 1476.7,1412.8 1474.1,1412.8 1474.1,1410.4 1471.7,1410.4 1471.7,1412.8 1469.1,1412.8 1469.1,1438.2 1466.7,1438.2 1466.7,1438.2 1464.2,1438.2 1464.2,1438.2 1461.8,1438.2 1461.8,1408.0 1459.2,1408.0 1459.2,1412.8 1456.8,1412.8 1456.8,1415.4 1454.2,1415.4 1454.2,1415.4 1451.2,1415.4 1451.2,1400.5 1448.9,1400.5 1448.9,1400.5 1446.3,1400.5 1446.3,1412.8 1443.9,1412.8 1443.9,1412.8 1441.3,1412.8 1441.3,1412.8 1438.9,1412.8 1438.9,1405.4 1436.3,1405.4 1436.3,1405.4 1434.0,1405.4 1434.0,1410.4 1431.4,1410.4 1431.4,1412.8 1428.8,1412.8 1428.8,1415.4 1426.0,1415.4 1426.0,1415.4 1423.4,1415.4 1423.4,1415.4 1421.1,1415.4 1421.1,1412.8 1418.5,1412.8 1418.5,1420.7 1416.1,1420.7 1416.1,1423.3 1413.5,1423.3 1413.5,1423.3 1410.5,1423.3 1410.5,1420.7 1408.1,1420.7 1408.1,1402.8 1405.8,1402.8 1405.8,1400.5 1403.2,1400.5 1403.2,1398.1 1400.6,1398.1 1400.6,1410.4 1398.2,1410.4 1398.2,1420.7 1395.6,1420.7 1395.6,1420.7 1393.0,1420.7 1393.0,1417.9 1390.7,1417.9 1390.7,1405.4 1387.9,1405.4 1387.9,1398.1 1385.3,1398.1 1385.3,1398.1 1382.7,1398.1 1382.7,1405.4 1380.3,1405.4 1380.3,1408.0 1377.8,1408.0 1377.8,1415.4 1375.2,1415.4 1375.2,1415.4 1372.8,1415.4 1372.8,1415.4 1369.8,1415.4 1369.8,1408.0 1367.4,1408.0 1367.4,1405.4 1364.8,1405.4 1364.8,1402.8 1362.5,1402.8 1362.5,1402.8 1359.9,1402.8 1359.9,1400.5 1357.5,1400.5 1357.5,1417.9 1354.9,1417.9 1354.9,1420.7 1352.5,1420.7 1352.5,1417.9 1349.6,1417.9 1349.6,1410.4 1347.0,1410.4 1347.0,1410.4 1344.6,1410.4 1344.6,1405.4 1342.0,1405.4 1342.0,1417.9 1339.6,1417.9 1339.6,1420.7 1337.0,1420.7 1337.0,1417.9 1334.7,1417.9 1334.7,1402.8 1332.1,1402.8 1332.1,1402.8 1329.1,1402.8 1329.1,1400.5 1326.7,1400.5 1326.7,1400.5 1324.1,1400.5 1324.1,1410.4 1321.5,1410.4 1321.5,1412.8 1319.2,1412.8 1319.2,1412.8 1316.8,1412.8 1316.8,1410.4 1314.2,1410.4 1314.2,1410.4 1311.6,1410.4 1311.6,1408.0 1308.8,1408.0 1308.8,1410.4 1306.3,1410.4 1306.3,1410.4 1303.7,1410.4 1303.7,1425.9 1301.3,1425.9 1301.3,1428.3 1298.9,1428.3 1298.9,1425.9 1296.3,1425.9 1296.3,1405.4 1293.7,1405.4 1293.7,1435.8 1291.0,1435.8 1291.0,1435.8 1288.4,1435.8 1288.4,1433.2 1286.0,1433.2 1286.0,1415.4 1283.4,1415.4 1283.4,1417.9 1281.0,1417.9 1281.0,1415.4 1278.5,1415.4 1278.5,1405.4 1275.5,1405.4 1275.5,1412.8 1273.1,1412.8 1273.1,1415.4 1270.5,1415.4 1270.5,1415.4 1268.1,1415.4 1268.1,1405.4 1265.5,1405.4 1265.5,1405.4 1263.2,1405.4 1263.2,1417.9 1260.6,1417.9 1260.6,1417.9 1258.0,1417.9 1258.0,1417.9 1255.6,1417.9 1255.6,1423.3 1252.6,1423.3 1252.6,1425.9 1250.2,1425.9 1250.2,1423.3 1247.7,1423.3 1247.7,1395.5 1245.3,1395.5 1245.3,1408.0 1242.7,1408.0 1242.7,1430.6 1240.3,1430.6 1240.3,1433.2 1237.7,1433.2 1237.7,1433.2 1235.4,1433.2 1235.4,1430.6 1232.8,1430.6 1232.8,1423.3 1229.8,1423.3 1229.8,1423.3 1227.4,1423.3 1227.4,1423.3 1224.8,1423.3 1224.8,1415.4 1222.4,1415.4 1222.4,1408.0 1219.9,1408.0 1219.9,1402.8 1217.5,1402.8 1217.5,1385.0 1214.9,1385.0 1214.9,1392.5 1212.3,1392.5 1212.3,1415.4 1209.9,1415.4 1209.9,1417.9 1207.3,1417.9 1207.3,1415.4 1205.0,1415.4 1205.0,1402.8 1202.4,1402.8 1202.4,1402.8 1200.0,1402.8 1200.0,1402.8 1197.2,1402.8 1197.2,1397.5 1194.2,1397.5 1194.2,1397.5 1191.7,1397.5 1191.7,1395.1 1188.9,1395.1 1188.9,1375.2 1186.3,1375.2 1186.3,1375.2 1183.9,1375.2 1183.9,1395.1 1181.3,1395.1 1181.3,1395.1 1178.4,1395.1 1178.4,1395.1 1176.0,1395.1 1176.0,1392.5 1173.4,1392.5 1173.4,1390.1 1171.0,1390.1 1171.0,1397.5 1168.4,1397.5 1168.4,1397.5 1166.0,1397.5 1166.0,1397.5 1163.5,1397.5 1163.5,1370.3 1161.1,1370.3 1161.1,1370.3 1158.5,1370.3 1158.5,1382.6 1156.1,1382.6 1156.1,1382.6 1153.5,1382.6 1153.5,1400.1 1150.7,1400.1 1150.7,1402.8 1148.2,1402.8 1148.2,1400.1 1145.6,1400.1 1145.6,1387.5 1143.2,1387.5 1143.2,1387.5 1140.6,1387.5 1140.6,1387.5 1138.2,1387.5 1138.2,1395.1 1135.7,1395.1 1135.7,1397.5 1133.3,1397.5 1133.3,1397.5 1130.7,1397.5 1130.7,1392.5 1127.7,1392.5 1127.7,1385.0 1125.3,1385.0 1125.3,1372.7 1122.7,1372.7 1122.7,1377.6 1120.2,1377.6 1120.2,1377.6 1117.8,1377.6 1117.8,1392.5 1115.4,1392.5 1115.4,1395.1 1112.4,1395.1 1112.4,1392.5 1109.8,1392.5 1109.8,1380.2 1107.4,1380.2 1107.4,1415.4 1104.9,1415.4 1104.9,1428.3 1102.5,1428.3 1102.5,1430.6 1099.9,1430.6 1099.9,1428.3 1097.5,1428.3 1097.5,1390.1 1094.9,1390.1 1094.9,1385.0 1092.4,1385.0 1092.4,1385.0 1089.6,1385.0 1089.6,1385.0 1087.0,1385.0 1087.0,1382.6 1084.6,1382.6 1084.6,1392.5 1082.0,1392.5 1082.0,1392.5 1079.6,1392.5 1079.6,1400.5 1076.7,1400.5 1076.7,1402.8 1074.1,1402.8 1074.1,1402.8 1071.7,1402.8 1071.7,1400.5 1069.1,1400.5 1069.1,1400.5 1066.7,1400.5 1066.7,1402.8 1064.2,1402.8 1064.2,1405.4 1061.8,1405.4 1061.8,1408.0 1059.2,1408.0 1059.2,1408.0 1056.8,1408.0 1056.8,1402.8 1054.2,1402.8 1054.2,1400.5 1051.2,1400.5 1051.2,1387.5 1048.9,1387.5 1048.9,1372.7 1046.3,1372.7 1046.3,1400.5 1043.9,1400.5 1043.9,1402.8 1041.3,1402.8 1041.3,1400.5 1038.9,1400.5 1038.9,1387.5 1036.3,1387.5 1036.3,1385.0 1034.0,1385.0 1034.0,1380.2 1031.4,1380.2 1031.4,1387.5 1028.8,1387.5 1028.8,1412.8 1026.0,1412.8 1026.0,1412.8 1023.4,1412.8 1023.4,1412.8 1021.1,1412.8 1021.1,1398.1 1018.5,1398.1 1018.5,1433.2 1016.1,1433.2 1016.1,1433.2 1013.5,1433.2 1013.5,1433.2 1010.5,1433.2 1010.5,1390.1 1008.1,1390.1 1008.1,1390.1 1005.8,1390.1 1005.8,1390.1 1003.2,1390.1 1003.2,1392.5 1000.6,1392.5 1000.6,1392.5 998.2,1392.5 998.2,1402.8 995.6,1402.8 995.6,1402.8 993.0,1402.8 993.0,1408.0 990.7,1408.0 990.7,1410.4 987.9,1410.4 987.9,1410.4 985.3,1410.4 985.3,1425.9 982.7,1425.9 982.7,1428.3 980.3,1428.3 980.3,1428.3 977.8,1428.3 977.8,1425.9 975.2,1425.9 975.2,1387.5 972.8,1387.5 972.8,1387.5 969.8,1387.5 969.8,1392.5 967.4,1392.5 967.4,1398.1 964.8,1398.1 964.8,1400.5 962.5,1400.5 962.5,1400.5 959.9,1400.5 959.9,1400.5 957.5,1400.5 957.5,1402.8 954.9,1402.8 954.9,1402.8 952.5,1402.8 952.5,1405.4 949.6,1405.4 949.6,1408.0 947.0,1408.0 947.0,1408.0 944.6,1408.0 944.6,1402.8 942.0,1402.8 942.0,1405.4 939.6,1405.4 939.6,1405.4 937.0,1405.4 937.0,1408.0 934.7,1408.0 934.7,1410.4 932.1,1410.4 932.1,1408.0 929.1,1408.0 929.1,1402.8 926.7,1402.8 926.7,1400.5 924.1,1400.5 924.1,1402.8 921.5,1402.8 921.5,1405.4 919.2,1405.4 919.2,1405.4 916.8,1405.4 916.8,1430.6 914.2,1430.6 914.2,1433.2 911.6,1433.2 911.6,1433.2 908.8,1433.2 908.8,1438.2 906.3,1438.2 906.3,1438.2 903.7,1438.2 903.7,1435.8 901.3,1435.8 901.3,1417.9 898.9,1417.9 898.9,1415.4 896.3,1415.4 896.3,1425.9 893.7,1425.9 893.7,1425.9 891.0,1425.9 891.0,1423.3 888.4,1423.3 888.4,1415.4 886.0,1415.4 886.0,1415.4 883.4,1415.4 883.4,1412.8 881.0,1412.8 881.0,1408.0 878.5,1408.0 878.5,1410.4 875.5,1410.4 875.5,1412.8 873.1,1412.8 873.1,1410.4 870.5,1410.4 870.5,1398.1 868.1,1398.1 868.1,1395.5 865.5,1395.5 865.5,1398.1 863.2,1398.1 863.2,1408.0 860.6,1408.0 860.6,1410.4 858.0,1410.4 858.0,1410.4 855.6,1410.4 855.6,1410.4 852.6,1410.4 852.6,1425.9 850.2,1425.9 850.2,1425.9 847.7,1425.9 847.7,1425.9 845.3,1425.9 845.3,1405.4 842.7,1405.4 842.7,1405.4 840.3,1405.4 840.3,1420.7 837.7,1420.7 837.7,1420.7 835.4,1420.7 835.4,1420.7 832.8,1420.7 832.8,1410.4 829.8,1410.4 829.8,1420.7 827.4,1420.7 827.4,1423.3 824.8,1423.3 824.8,1420.7 822.4,1420.7 822.4,1420.7 819.9,1420.7 819.9,1417.9 817.5,1417.9 817.5,1415.4 814.9,1415.4 814.9,1420.7 812.3,1420.7 812.3,1423.3 809.9,1423.3 809.9,1420.7 807.3,1420.7 807.3,1408.0 805.0,1408.0 805.0,1400.5 802.4,1400.5 802.4,1398.1 800.0,1398.1 800.0,1397.5 797.2,1397.5 797.2,1400.1 794.2,1400.1 794.2,1410.4 791.7,1410.4 791.7,1410.4 788.9,1410.4 788.9,1423.3 786.3,1423.3 786.3,1423.3 783.9,1423.3 783.9,1420.7 781.3,1420.7 781.3,1405.4 778.4,1405.4 778.4,1402.8 776.0,1402.8 776.0,1402.8 773.4,1402.8 773.4,1420.7 771.0,1420.7 771.0,1423.3 768.4,1423.3 768.4,1425.9 766.0,1425.9 766.0,1423.3 763.5,1423.3 763.5,1417.9 761.1,1417.9 761.1,1415.4 758.5,1415.4 758.5,1417.9 756.1,1417.9 756.1,1415.4 753.5,1415.4 753.5,1425.9 750.7,1425.9 750.7,1425.9 748.2,1425.9 748.2,1425.9 745.6,1425.9 745.6,1410.4 743.2,1410.4 743.2,1410.4 740.6,1410.4 740.6,1410.4 738.2,1410.4 738.2,1410.4 735.7,1410.4 735.7,1408.0 733.3,1408.0 733.3,1415.4 730.7,1415.4 730.7,1415.4 727.7,1415.4 727.7,1415.4 725.3,1415.4 725.3,1412.8 722.7,1412.8 722.7,1412.8 720.2,1412.8 720.2,1415.4 717.8,1415.4 717.8,1415.4 715.4,1415.4 715.4,1410.4 712.4,1410.4 712.4,1370.3 709.8,1370.3 709.8,1375.2 707.4,1375.2 707.4,1375.2 704.9,1375.2 704.9,1372.7 702.5,1372.7 702.5,1347.4 699.9,1347.4 699.9,1344.8 697.5,1344.8 697.5,1336.9 694.9,1336.9 694.9,1339.9 692.4,1339.9 692.4,1344.8 689.6,1344.8 689.6,1380.2 687.0,1380.2 687.0,1382.6 684.6,1382.6 684.6,1382.6 682.0,1382.6 682.0,1380.2 679.6,1380.2 679.6,1357.4 676.7,1357.4 676.7,1357.4 674.1,1357.4 674.1,1357.4 671.7,1357.4 671.7,1387.5 669.1,1387.5 669.1,1387.5 666.7,1387.5 666.7,1387.5 664.2,1387.5 664.2,1395.1 661.8,1395.1 661.8,1395.1 659.2,1395.1 659.2,1392.5 656.8,1392.5 656.8,1390.1 654.2,1390.1 654.2,1390.1 651.2,1390.1 651.2,1390.1 648.9,1390.1 648.9,1390.1 646.3,1390.1 646.3,1387.5 643.9,1387.5 643.9,1400.1 641.3,1400.1 641.3,1402.8 638.9,1402.8 638.9,1400.1 636.3,1400.1 636.3,1375.2 634.0,1375.2 634.0,1372.7 631.4,1372.7 631.4,1387.5 628.8,1387.5 628.8,1390.1 626.0,1390.1 626.0,1405.4 623.4,1405.4 623.4,1405.4 621.1,1405.4 621.1,1405.4 618.5,1405.4 618.5,1362.7 616.1,1362.7 616.1,1380.2 613.5,1380.2 613.5,1382.6 610.5,1382.6 610.5,1382.6 608.1,1382.6 608.1,1354.8 605.8,1354.8 605.8,1349.8 603.2,1349.8 603.2,1385.0 600.6,1385.0 600.6,1387.5 598.2,1387.5 598.2,1387.5 595.6,1387.5 595.6,1377.6 593.0,1377.6 593.0,1377.6 590.7,1377.6 590.7,1377.6 587.9,1377.6 587.9,1380.2 585.3,1380.2 585.3,1387.5 582.7,1387.5 582.7,1387.5 580.3,1387.5 580.3,1387.5 577.8,1387.5 577.8,1385.0 575.2,1385.0 575.2,1385.0 572.8,1385.0 572.8,1387.5 569.8,1387.5 569.8,1387.5 567.4,1387.5 567.4,1382.6 564.8,1382.6 564.8,1380.2 562.5,1380.2 562.5,1380.2 559.9,1380.2 559.9,1377.6 557.5,1377.6 557.5,1372.7 554.9,1372.7 554.9,1367.7 552.5,1367.7 552.5,1367.7 549.6,1367.7 549.6,1370.3 547.0,1370.3 547.0,1367.7 544.6,1367.7 544.6,1360.1 542.0,1360.1 542.0,1380.2 539.6,1380.2 539.6,1380.2 537.0,1380.2 537.0,1380.2 534.7,1380.2 534.7,1382.6 532.1,1382.6 532.1,1382.6 529.1,1382.6 529.1,1380.2 526.7,1380.2 526.7,1377.6 524.1,1377.6 524.1,1380.2 521.5,1380.2 521.5,1380.2 519.2,1380.2 519.2,1380.2 516.8,1380.2 516.8,1402.8 514.2,1402.8 514.2,1402.8 511.6,1402.8 511.6,1402.8 508.8,1402.8 508.8,1370.3 506.3,1370.3 506.3,1367.7 503.7,1367.7 503.7,1367.7 501.3,1367.7 501.3,1367.7 498.9,1367.7 498.9,1370.3 496.3,1370.3 496.3,1385.0 493.7,1385.0 493.7,1385.0 491.0,1385.0 491.0,1382.6 488.4,1382.6 488.4,1380.2 486.0,1380.2 486.0,1372.7 483.4,1372.7 483.4,1385.0 481.0,1385.0 481.0,1385.0 478.5,1385.0 478.5,1385.0 475.5,1385.0 475.5,1372.7 473.1,1372.7 473.1,1380.2 470.5,1380.2 470.5,1382.6 468.1,1382.6 468.1,1382.6 465.5,1382.6 465.5,1377.6 463.2,1377.6 463.2,1339.5 460.6,1339.5 460.6,1336.9 458.0,1336.9 458.0,1351.8 455.6,1351.8 455.6,1351.8 452.6,1351.8 452.6,1351.8 450.2,1351.8 450.2,1351.8 447.7,1351.8 447.7,1380.2 445.3,1380.2 445.3,1382.6 442.7,1382.6 442.7,1382.6 440.3,1382.6 440.3,1395.1 437.7,1395.1 437.7,1412.8 435.4,1412.8 435.4,1448.5 432.8,1448.5 432.8,1451.1 429.8,1451.1 429.8,1451.1 427.4,1451.1 427.4,1448.5 424.8,1448.5 424.8,1438.2 422.4,1438.2 422.4,1443.2 419.9,1443.2 419.9,1443.2 417.5,1443.2 417.5,1440.8 414.9,1440.8 414.9,1440.8 412.3,1440.8 412.3,1438.2 409.9,1438.2Z" fill="#EB0000"/>
<path d="M409.8,1110.4 412.3,1110.4 412.3,1059.4 414.7,1059.4 414.7,1057.3 417.3,1057.3 417.3,1059.1 420.0,1059.1 420.0,1039.1 422.4,1039.1 422.4,1039.1 424.9,1039.1 424.9,1041.5 427.5,1041.5 427.5,1034.2 429.9,1034.2 429.9,1023.6 432.6,1023.6 432.6,1006.1 435.0,1006.1 435.0,1000.8 437.6,1000.8 437.6,1000.4 437.7,1000.4 437.7,954.7 440.3,954.7 440.3,949.7 442.7,949.7 442.7,926.9 445.3,926.9 445.3,921.3 447.7,921.3 447.7,918.6 450.2,918.6 450.2,918.6 452.6,918.6 452.6,916.6 455.6,916.6 455.6,916.6 458.0,916.6 458.0,916.6 460.6,916.6 460.6,926.9 463.2,926.9 463.2,946.8 465.5,946.8 465.5,944.8 468.1,944.8 468.1,939.4 470.5,939.4 470.5,931.9 473.1,931.9 473.1,929.3 475.5,929.3 475.5,931.9 478.5,931.9 478.5,946.8 481.0,946.8 481.0,944.8 483.4,944.8 483.4,944.8 486.0,944.8 486.0,944.8 488.4,944.8 488.4,944.8 491.0,944.8 491.0,919.0 493.7,919.0 493.7,919.0 496.3,919.0 496.3,919.0 498.9,919.0 498.9,949.7 501.3,949.7 501.3,926.9 503.7,926.9 503.7,926.9 506.3,926.9 506.3,916.6 508.8,916.6 508.8,914.0 511.6,914.0 511.6,916.6 514.2,916.6 514.2,946.8 516.8,946.8 516.8,934.4 519.2,934.4 519.2,931.9 521.5,931.9 521.5,931.9 524.1,931.9 524.1,934.4 526.7,934.4 526.7,936.8 529.1,936.8 529.1,941.8 532.1,941.8 532.1,936.8 534.7,936.8 534.7,921.9 537.0,921.9 537.0,921.9 539.6,921.9 539.6,924.5 542.0,924.5 542.0,946.8 544.6,946.8 544.6,949.3 547.0,949.3 547.0,951.7 549.6,951.7 549.6,941.8 552.5,941.8 552.5,939.4 554.9,939.4 554.9,941.8 557.5,941.8 557.5,946.8 559.9,946.8 559.9,939.4 562.5,939.4 562.5,936.8 564.8,936.8 564.8,939.4 567.4,939.4 567.4,949.7 569.8,949.7 569.8,949.7 572.8,949.7 572.8,949.7 575.2,949.7 575.2,939.4 577.8,939.4 577.8,934.4 580.3,934.4 580.3,921.9 582.7,921.9 582.7,919.0 585.3,919.0 585.3,909.0 587.9,909.0 587.9,906.4 590.7,906.4 590.7,909.0 593.0,909.0 593.0,921.9 595.6,921.9 595.6,909.0 598.2,909.0 598.2,909.0 600.6,909.0 600.6,909.0 603.2,909.0 603.2,898.1 605.8,898.1 605.8,895.5 608.1,895.5 608.1,895.5 610.5,895.5 610.5,906.0 613.5,906.0 613.5,903.5 616.1,903.5 616.1,901.1 618.5,901.1 618.5,903.5 621.1,903.5 621.1,903.5 623.4,903.5 623.4,903.5 626.0,903.5 626.0,906.0 628.8,906.0 628.8,916.6 631.4,916.6 631.4,898.5 634.0,898.5 634.0,895.5 636.3,895.5 636.3,898.1 638.9,898.1 638.9,901.1 641.3,901.1 641.3,911.4 643.9,911.4 643.9,901.1 646.3,901.1 646.3,898.5 648.9,898.5 648.9,901.1 651.2,901.1 651.2,919.0 654.2,919.0 654.2,921.9 656.8,921.9 656.8,951.7 659.2,951.7 659.2,949.7 661.8,949.7 661.8,934.4 664.2,934.4 664.2,921.9 666.7,921.9 666.7,919.0 669.1,919.0 669.1,921.9 671.7,921.9 671.7,936.8 674.1,936.8 674.1,936.8 676.7,936.8 676.7,936.8 679.6,936.8 679.6,890.6 682.0,890.6 682.0,890.6 684.6,890.6 684.6,893.5 687.0,893.5 687.0,941.8 689.6,941.8 689.6,926.9 692.4,926.9 692.4,921.9 694.9,921.9 694.9,921.9 697.5,921.9 697.5,914.0 699.9,914.0 699.9,911.0 702.5,911.0 702.5,914.0 704.9,914.0 704.9,926.9 707.4,926.9 707.4,934.4 709.8,934.4 709.8,944.8 712.4,944.8 712.4,941.8 715.4,941.8 715.4,941.8 717.8,941.8 717.8,972.2 720.2,972.2 720.2,974.6 722.7,974.6 722.7,980.1 725.3,980.1 725.3,980.1 727.7,980.1 727.7,969.6 730.7,969.6 730.7,969.6 735.7,969.6 735.7,985.1 738.2,985.1 738.2,987.5 740.6,987.5 740.6,985.1 743.2,985.1 743.2,982.5 745.6,982.5 745.6,982.5 748.2,982.5 748.2,985.1 750.7,985.1 750.7,977.5 753.5,977.5 753.5,975.0 756.1,975.0 756.1,977.5 758.5,977.5 758.5,992.4 761.1,992.4 761.1,992.4 766.0,992.4 766.0,1002.8 768.4,1002.8 768.4,985.1 771.0,985.1 771.0,985.1 773.4,985.1 773.4,980.1 776.0,980.1 776.0,977.5 778.4,977.5 778.4,977.5 781.3,977.5 781.3,990.1 783.9,990.1 783.9,990.1 786.3,990.1 786.3,990.1 788.9,990.1 788.9,1005.4 791.7,1005.4 791.7,992.4 794.2,992.4 794.2,975.0 797.2,975.0 797.2,972.2 800.0,972.2 800.0,975.0 802.4,975.0 802.4,995.4 805.0,995.4 805.0,995.4 807.3,995.4 807.3,995.4 809.9,995.4 809.9,998.0 812.3,998.0 812.3,980.1 814.9,980.1 814.9,977.5 817.5,977.5 817.5,977.5 819.9,977.5 819.9,977.5 824.8,977.5 824.8,995.4 827.4,995.4 827.4,998.0 829.8,998.0 829.8,995.4 832.8,995.4 832.8,992.8 835.4,992.8 835.4,992.8 837.7,992.8 837.7,998.0 840.3,998.0 840.3,1010.7 842.7,1010.7 842.7,977.5 845.3,977.5 845.3,977.5 847.7,977.5 847.7,977.5 850.2,977.5 850.2,995.4 852.6,995.4 852.6,995.4 855.6,995.4 855.6,975.0 858.0,975.0 858.0,975.0 863.2,975.0 863.2,964.6 865.5,964.6 865.5,962.3 868.1,962.3 868.1,964.6 870.5,964.6 870.5,975.0 873.1,975.0 873.1,982.5 875.5,982.5 875.5,990.1 878.5,990.1 878.5,995.4 881.0,995.4 881.0,992.8 883.4,992.8 883.4,992.8 886.0,992.8 886.0,980.1 888.4,980.1 888.4,980.1 891.0,980.1 891.0,980.1 893.7,980.1 893.7,987.5 896.3,987.5 896.3,987.5 903.7,987.5 903.7,975.0 906.3,975.0 906.3,975.0 908.8,975.0 908.8,977.5 911.6,977.5 911.6,992.8 914.2,992.8 914.2,992.8 916.8,992.8 916.8,990.1 919.2,990.1 919.2,975.0 921.5,975.0 921.5,972.2 924.1,972.2 924.1,975.0 926.7,975.0 926.7,954.7 929.1,954.7 929.1,954.7 932.1,954.7 932.1,957.1 934.7,957.1 934.7,969.6 937.0,969.6 937.0,987.5 939.6,987.5 939.6,980.1 942.0,980.1 942.0,967.2 944.6,967.2 944.6,967.2 947.0,967.2 947.0,969.6 949.6,969.6 949.6,977.5 952.5,977.5 952.5,975.0 954.9,975.0 954.9,975.0 957.5,975.0 957.5,975.0 959.9,975.0 959.9,982.5 962.5,982.5 962.5,980.1 964.8,980.1 964.8,982.5 967.4,982.5 967.4,992.8 969.8,992.8 969.8,980.1 972.8,980.1 972.8,975.0 975.2,975.0 975.2,975.0 977.8,975.0 977.8,964.6 980.3,964.6 980.3,962.3 982.7,962.3 982.7,962.3 985.3,962.3 985.3,964.6 987.9,964.6 987.9,967.2 990.7,967.2 990.7,977.5 993.0,977.5 993.0,959.7 995.6,959.7 995.6,957.1 998.2,957.1 998.2,959.7 1000.6,959.7 1000.6,969.6 1003.2,969.6 1003.2,969.6 1005.8,969.6 1005.8,944.4 1008.1,944.4 1008.1,944.4 1010.5,944.4 1010.5,944.4 1013.5,944.4 1013.5,987.5 1016.1,987.5 1016.1,972.2 1018.5,972.2 1018.5,969.6 1021.1,969.6 1021.1,969.6 1023.4,969.6 1023.4,946.8 1026.0,946.8 1026.0,911.4 1028.8,911.4 1028.8,909.0 1031.4,909.0 1031.4,909.0 1034.0,909.0 1034.0,911.4 1036.3,911.4 1036.3,926.9 1038.9,926.9 1038.9,911.4 1041.3,911.4 1041.3,901.1 1043.9,901.1 1043.9,898.5 1046.3,898.5 1046.3,896.1 1048.9,896.1 1048.9,888.6 1051.2,888.6 1051.2,885.8 1054.2,885.8 1054.2,867.7 1056.8,867.7 1056.8,829.6 1059.2,829.6 1059.2,824.6 1061.8,824.6 1061.8,822.0 1064.2,822.0 1064.2,824.6 1066.7,824.6 1066.7,855.0 1069.1,855.0 1069.1,872.9 1071.7,872.9 1071.7,880.6 1074.1,880.6 1074.1,880.6 1076.7,880.6 1076.7,888.6 1079.6,888.6 1079.6,888.6 1082.0,888.6 1082.0,888.6 1084.6,888.6 1084.6,911.4 1087.0,911.4 1087.0,939.4 1089.6,939.4 1089.6,944.8 1092.4,944.8 1092.4,939.4 1094.9,939.4 1094.9,936.8 1097.5,936.8 1097.5,936.8 1099.9,936.8 1099.9,934.4 1102.5,934.4 1102.5,936.8 1104.9,936.8 1104.9,954.7 1107.4,954.7 1107.4,944.8 1109.8,944.8 1109.8,944.4 1112.4,944.4 1112.4,946.8 1115.4,946.8 1115.4,959.7 1117.8,959.7 1117.8,964.6 1120.2,964.6 1120.2,964.6 1122.7,964.6 1122.7,959.7 1125.3,959.7 1125.3,957.1 1127.7,957.1 1127.7,931.9 1130.7,931.9 1130.7,931.9 1133.3,931.9 1133.3,931.9 1135.7,931.9 1135.7,949.3 1138.2,949.3 1138.2,951.7 1140.6,951.7 1140.6,954.7 1143.2,954.7 1143.2,954.7 1145.6,954.7 1145.6,954.7 1148.2,954.7 1148.2,957.1 1150.7,957.1 1150.7,959.7 1153.5,959.7 1153.5,941.8 1156.1,941.8 1156.1,926.9 1158.5,926.9 1158.5,926.9 1161.1,926.9 1161.1,926.9 1163.5,926.9 1163.5,931.9 1166.0,931.9 1166.0,914.0 1168.4,914.0 1168.4,914.0 1171.0,914.0 1171.0,906.4 1173.4,906.4 1173.4,904.1 1176.0,904.1 1176.0,903.5 1178.4,903.5 1178.4,878.2 1181.3,878.2 1181.3,852.4 1183.9,852.4 1183.9,850.0 1186.3,850.0 1186.3,847.5 1188.9,847.5 1188.9,850.0 1191.7,850.0 1191.7,875.3 1194.2,875.3 1194.2,888.6 1197.2,888.6 1197.2,888.6 1200.0,888.6 1200.0,893.5 1202.4,893.5 1202.4,891.2 1205.0,891.2 1205.0,893.5 1207.3,893.5 1207.3,939.4 1209.9,939.4 1209.9,951.7 1212.3,951.7 1212.3,954.7 1214.9,954.7 1214.9,944.8 1217.5,944.8 1217.5,944.4 1219.9,944.4 1219.9,946.8 1222.4,946.8 1222.4,962.3 1224.8,962.3 1224.8,962.3 1227.4,962.3 1227.4,962.3 1229.8,962.3 1229.8,964.6 1232.8,964.6 1232.8,964.6 1235.4,964.6 1235.4,967.2 1237.7,967.2 1237.7,990.1 1240.3,990.1 1240.3,992.8 1242.7,992.8 1242.7,998.0 1245.3,998.0 1245.3,990.1 1247.7,990.1 1247.7,987.5 1250.2,987.5 1250.2,987.5 1252.6,987.5 1252.6,992.8 1255.6,992.8 1255.6,957.1 1258.0,957.1 1258.0,957.1 1263.2,957.1 1263.2,985.1 1265.5,985.1 1265.5,985.1 1268.1,985.1 1268.1,985.1 1270.5,985.1 1270.5,1000.4 1273.1,1000.4 1273.1,980.1 1275.5,980.1 1275.5,980.1 1281.0,980.1 1281.0,1000.4 1283.4,1000.4 1283.4,1007.9 1286.0,1007.9 1286.0,987.5 1288.4,987.5 1288.4,985.1 1291.0,985.1 1291.0,969.6 1293.7,969.6 1293.7,967.2 1296.3,967.2 1296.3,969.6 1298.9,969.6 1298.9,998.0 1301.3,998.0 1301.3,1010.7 1303.7,1010.7 1303.7,969.6 1306.3,969.6 1306.3,967.2 1308.8,967.2 1308.8,969.6 1311.6,969.6 1311.6,975.0 1314.2,975.0 1314.2,977.5 1316.8,977.5 1316.8,985.1 1319.2,985.1 1319.2,982.5 1321.5,982.5 1321.5,975.0 1324.1,975.0 1324.1,972.2 1326.7,972.2 1326.7,972.2 1329.1,972.2 1329.1,992.8 1332.1,992.8 1332.1,1005.4 1334.7,1005.4 1334.7,972.2 1337.0,972.2 1337.0,972.2 1339.6,972.2 1339.6,975.0 1342.0,975.0 1342.0,992.8 1344.6,992.8 1344.6,967.2 1347.0,967.2 1347.0,964.6 1349.6,964.6 1349.6,967.2 1352.5,967.2 1352.5,987.5 1354.9,987.5 1354.9,980.1 1357.5,980.1 1357.5,980.1 1359.9,980.1 1359.9,980.1 1362.5,980.1 1362.5,977.5 1364.8,977.5 1364.8,977.5 1367.4,977.5 1367.4,977.5 1369.8,977.5 1369.8,982.5 1372.8,982.5 1372.8,995.4 1375.2,995.4 1375.2,1005.4 1377.8,1005.4 1377.8,1005.4 1380.3,1005.4 1380.3,1002.8 1382.7,1002.8 1382.7,967.2 1385.3,967.2 1385.3,964.6 1387.9,964.6 1387.9,964.6 1390.7,964.6 1390.7,980.1 1393.0,980.1 1393.0,980.1 1395.6,980.1 1395.6,982.5 1398.2,982.5 1398.2,980.1 1400.6,980.1 1400.6,982.5 1403.2,982.5 1403.2,992.8 1405.8,992.8 1405.8,992.8 1408.1,992.8 1408.1,998.0 1410.5,998.0 1410.5,975.0 1413.5,975.0 1413.5,975.0 1416.1,975.0 1416.1,977.5 1418.5,977.5 1418.5,992.8 1421.1,992.8 1421.1,990.1 1423.4,990.1 1423.4,982.5 1426.0,982.5 1426.0,980.1 1428.8,980.1 1428.8,980.1 1431.4,980.1 1431.4,982.5 1434.0,982.5 1434.0,990.1 1436.3,990.1 1436.3,987.5 1438.9,987.5 1438.9,980.1 1441.3,980.1 1441.3,977.5 1443.9,977.5 1443.9,977.5 1446.3,977.5 1446.3,980.1 1448.9,980.1 1448.9,980.1 1451.2,980.1 1451.2,977.5 1454.2,977.5 1454.2,975.0 1456.8,975.0 1456.8,972.2 1459.2,972.2 1459.2,972.2 1461.8,972.2 1461.8,975.0 1464.2,975.0 1464.2,980.1 1466.7,980.1 1466.7,980.1 1469.1,980.1 1469.1,962.3 1471.7,962.3 1471.7,959.7 1474.1,959.7 1474.1,959.7 1476.7,959.7 1476.7,962.3 1479.6,962.3 1479.6,972.2 1482.0,972.2 1482.0,990.1 1484.6,990.1 1484.6,980.1 1487.0,980.1 1487.0,977.5 1489.6,977.5 1489.6,977.5 1492.4,977.5 1492.4,985.1 1494.9,985.1 1494.9,972.2 1497.5,972.2 1497.5,959.7 1499.9,959.7 1499.9,959.7 1502.5,959.7 1502.5,962.3 1504.9,962.3 1504.9,977.5 1507.4,977.5 1507.4,980.1 1509.8,980.1 1509.8,964.6 1512.4,964.6 1512.4,962.3 1515.4,962.3 1515.4,962.3 1517.8,962.3 1517.8,964.6 1520.2,964.6 1520.2,962.3 1522.7,962.3 1522.7,964.6 1525.3,964.6 1525.3,982.5 1527.7,982.5 1527.7,941.8 1530.7,941.8 1530.7,936.8 1533.3,936.8 1533.3,934.4 1535.7,934.4 1535.7,936.8 1538.2,936.8 1538.2,972.2 1540.6,972.2 1540.6,975.0 1543.2,975.0 1543.2,967.2 1545.6,967.2 1545.6,967.2 1548.2,967.2 1548.2,967.2 1550.7,967.2 1550.7,967.2 1553.5,967.2 1553.5,946.8 1556.1,946.8 1556.1,944.4 1558.5,944.4 1558.5,946.8 1561.1,946.8 1561.1,951.7 1563.5,951.7 1563.5,951.7 1566.0,951.7 1566.0,954.7 1568.4,954.7 1568.4,975.0 1571.0,975.0 1571.0,977.5 1573.4,977.5 1573.4,975.0 1576.0,975.0 1576.0,972.2 1578.4,972.2 1578.4,972.2 1581.3,972.2 1581.3,914.0 1583.9,914.0 1583.9,911.4 1586.3,911.4 1586.3,911.4 1588.9,911.4 1588.9,914.0 1591.7,914.0 1591.7,956.7 1594.2,956.7 1594.2,956.7 1597.2,956.7 1597.2,941.8 1600.0,941.8 1600.0,939.4 1602.4,939.4 1602.4,936.8 1605.0,936.8 1605.0,936.8 1607.3,936.8 1607.3,936.8 1609.9,936.8 1609.9,959.7 1612.3,959.7 1612.3,959.7 1614.9,959.7 1614.9,957.1 1619.9,957.1 1619.9,957.1 1622.4,957.1 1622.4,957.1 1624.8,957.1 1624.8,957.1 1627.4,957.1 1627.4,954.7 1629.8,954.7 1629.8,954.7 1632.8,954.7 1632.8,934.4 1635.4,934.4 1635.4,931.9 1637.7,931.9 1637.7,931.9 1640.3,931.9 1640.3,934.4 1642.7,934.4 1642.7,964.6 1645.3,964.6 1645.3,962.3 1647.7,962.3 1647.7,957.1 1650.2,957.1 1650.2,954.7 1652.6,954.7 1652.6,939.4 1655.6,939.4 1655.6,939.4 1658.0,939.4 1658.0,939.4 1660.6,939.4 1660.6,964.6 1663.2,964.6 1663.2,962.3 1665.5,962.3 1665.5,939.4 1668.1,939.4 1668.1,936.8 1670.5,936.8 1670.5,939.4 1673.1,939.4 1673.1,959.7 1675.5,959.7 1675.5,941.8 1678.5,941.8 1678.5,939.4 1681.0,939.4 1681.0,941.8 1683.4,941.8 1683.4,951.7 1686.0,951.7 1686.0,959.7 1688.4,959.7 1688.4,946.8 1691.0,946.8 1691.0,944.4 1693.7,944.4 1693.7,944.4 1696.3,944.4 1696.3,944.4 1698.9,944.4 1698.9,944.4 1701.3,944.4 1701.3,954.7 1703.7,954.7 1703.7,951.7 1706.3,951.7 1706.3,941.8 1708.8,941.8 1708.8,926.9 1711.6,926.9 1711.6,923.9 1714.2,923.9 1714.2,926.9 1716.8,926.9 1716.8,929.3 1719.2,929.3 1719.2,929.3 1721.5,929.3 1721.5,926.9 1724.1,926.9 1724.1,926.9 1726.7,926.9 1726.7,929.3 1729.1,929.3 1729.1,939.4 1732.1,939.4 1732.1,951.7 1734.7,951.7 1734.7,909.0 1737.0,909.0 1737.0,906.4 1739.6,906.4 1739.6,906.4 1742.0,906.4 1742.0,916.6 1744.6,916.6 1744.6,919.0 1747.0,919.0 1747.0,896.1 1749.6,896.1 1749.6,893.5 1752.5,893.5 1752.5,893.5 1754.9,893.5 1754.9,896.1 1757.5,896.1 1757.5,898.5 1759.9,898.5 1759.9,893.5 1762.5,893.5 1762.5,893.5 1764.8,893.5 1764.8,893.5 1767.4,893.5 1767.4,896.1 1769.8,896.1 1769.8,880.6 1772.8,880.6 1772.8,880.6 1775.2,880.6 1775.2,883.2 1777.8,883.2 1777.8,888.6 1780.3,888.6 1780.3,891.2 1782.7,891.2 1782.7,903.5 1785.3,903.5 1785.3,896.1 1787.9,896.1 1787.9,896.1 1790.7,896.1 1790.7,896.1 1793.0,896.1 1793.0,906.4 1795.6,906.4 1795.6,893.5 1798.2,893.5 1798.2,893.5 1800.6,893.5 1800.6,893.5 1803.2,893.5 1803.2,911.4 1805.8,911.4 1805.8,904.1 1808.1,904.1 1808.1,903.5 1810.5,903.5 1810.5,906.4 1813.5,906.4 1813.5,919.0 1816.1,919.0 1816.1,906.4 1818.5,906.4 1818.5,906.4 1821.1,906.4 1821.1,896.1 1823.4,896.1 1823.4,896.1 1826.0,896.1 1826.0,898.5 1828.8,898.5 1828.8,911.4 1831.4,911.4 1831.4,909.0 1834.0,909.0 1834.0,909.0 1836.3,909.0 1836.3,926.9 1838.9,926.9 1838.9,909.0 1841.3,909.0 1841.3,909.0 1843.9,909.0 1843.9,909.0 1846.3,909.0 1846.3,916.6 1848.9,916.6 1848.9,914.0 1851.2,914.0 1851.2,901.1 1854.2,901.1 1854.2,898.5 1856.8,898.5 1856.8,898.5 1859.2,898.5 1859.2,909.0 1861.8,909.0 1861.8,901.1 1864.2,901.1 1864.2,872.9 1866.7,872.9 1866.7,870.3 1869.1,870.3 1869.1,870.3 1871.7,870.3 1871.7,870.3 1874.1,870.3 1874.1,870.3 1876.7,870.3 1876.7,885.8 1879.6,885.8 1879.6,885.8 1882.0,885.8 1882.0,878.2 1884.6,878.2 1884.6,880.6 1887.0,880.6 1887.0,906.4 1889.6,906.4 1889.6,883.2 1892.4,883.2 1892.4,880.6 1894.9,880.6 1894.9,880.6 1897.5,880.6 1897.5,896.1 1899.9,896.1 1899.9,904.1 1902.5,904.1 1902.5,911.4 1904.9,911.4 1904.9,896.1 1907.4,896.1 1907.4,893.5 1909.8,893.5 1909.8,893.5 1912.4,893.5 1912.4,901.1 1915.4,901.1 1915.4,898.5 1917.8,898.5 1917.8,898.5 1920.2,898.5 1920.2,901.1 1922.7,901.1 1922.7,909.0 1925.3,909.0 1925.3,891.2 1927.7,891.2 1927.7,888.6 1930.7,888.6 1930.7,891.2 1933.3,891.2 1933.3,898.5 1935.7,898.5 1935.7,898.5 1938.2,898.5 1938.2,898.5 1940.6,898.5 1940.6,898.5 1943.2,898.5 1943.2,901.1 1945.6,901.1 1945.6,885.8 1948.2,885.8 1948.2,885.8 1950.7,885.8 1950.7,888.6 1953.5,888.6 1953.5,891.2 1956.1,891.2 1956.1,891.2 1958.5,891.2 1958.5,891.2 1961.1,891.2 1961.1,896.1 1963.5,896.1 1963.5,875.3 1966.0,875.3 1966.0,872.9 1968.4,872.9 1968.4,875.3 1971.0,875.3 1971.0,896.1 1973.4,896.1 1973.4,891.2 1976.0,891.2 1976.0,878.2 1978.4,878.2 1978.4,875.7 1981.3,875.7 1981.3,875.7 1983.9,875.7 1983.9,878.2 1986.3,878.2 1986.3,885.8 1988.9,885.8 1988.9,888.6 1991.7,888.6 1991.7,893.5 1994.2,893.5 1994.2,896.1 1997.2,896.1 1997.2,893.5 2000.0,893.5 2000.0,852.7 2005.0,852.7 2005.0,855.3 2007.8,855.3 2007.8,878.4 2010.1,878.4 2010.1,878.4 2013.0,878.4 2013.0,881.0 2015.5,881.0 2015.5,881.0 2018.1,881.0 2018.1,883.5 2020.7,883.5 2020.7,901.5 2023.2,901.5 2023.2,903.9 2020.7,903.9 2020.7,906.0 2018.1,906.0 2018.1,926.6 2015.5,926.6 2015.5,933.7 2013.0,933.7 2013.0,933.7 2010.1,933.7 2010.1,936.9 2007.8,936.9 2007.8,936.9 2005.0,936.9 2005.0,936.9 2000.0,936.9 2000.0,957.1 1997.2,957.1 1997.2,959.7 1994.2,959.7 1994.2,959.7 1991.7,959.7 1991.7,949.3 1988.9,949.3 1988.9,923.9 1986.3,923.9 1986.3,934.4 1983.9,934.4 1983.9,936.8 1981.3,936.8 1981.3,967.2 1978.4,967.2 1978.4,969.6 1976.0,969.6 1976.0,969.6 1973.4,969.6 1973.4,951.7 1971.0,951.7 1971.0,946.8 1968.4,946.8 1968.4,949.3 1966.0,949.3 1966.0,951.7 1963.5,951.7 1963.5,951.7 1961.1,951.7 1961.1,957.1 1958.5,957.1 1958.5,959.7 1956.1,959.7 1956.1,959.7 1953.5,959.7 1953.5,959.7 1950.7,959.7 1950.7,969.6 1948.2,969.6 1948.2,969.6 1945.6,969.6 1945.6,969.6 1943.2,969.6 1943.2,959.7 1940.6,959.7 1940.6,959.7 1938.2,959.7 1938.2,972.2 1935.7,972.2 1935.7,972.2 1933.3,972.2 1933.3,972.2 1930.7,972.2 1930.7,949.3 1927.7,949.3 1927.7,949.3 1925.3,949.3 1925.3,954.7 1922.7,954.7 1922.7,954.7 1920.2,954.7 1920.2,951.7 1917.8,951.7 1917.8,951.7 1915.4,951.7 1915.4,949.3 1912.4,949.3 1912.4,951.7 1909.8,951.7 1909.8,959.7 1907.4,959.7 1907.4,964.6 1904.9,964.6 1904.9,975.0 1902.5,975.0 1902.5,975.0 1899.9,975.0 1899.9,975.0 1897.5,975.0 1897.5,951.7 1894.9,951.7 1894.9,957.1 1892.4,957.1 1892.4,962.3 1889.6,962.3 1889.6,964.6 1887.0,964.6 1887.0,964.6 1884.6,964.6 1884.6,964.6 1882.0,964.6 1882.0,957.1 1879.6,957.1 1879.6,949.3 1876.7,949.3 1876.7,946.8 1874.1,946.8 1874.1,946.8 1871.7,946.8 1871.7,949.3 1869.1,949.3 1869.1,957.1 1866.7,957.1 1866.7,962.3 1864.2,962.3 1864.2,982.5 1861.8,982.5 1861.8,985.1 1859.2,985.1 1859.2,982.5 1856.8,982.5 1856.8,962.3 1854.2,962.3 1854.2,972.2 1851.2,972.2 1851.2,972.2 1848.9,972.2 1848.9,972.2 1846.3,972.2 1846.3,964.6 1843.9,964.6 1843.9,972.2 1841.3,972.2 1841.3,975.0 1838.9,975.0 1838.9,975.0 1836.3,975.0 1836.3,969.6 1834.0,969.6 1834.0,967.2 1831.4,967.2 1831.4,967.2 1828.8,967.2 1828.8,969.6 1826.0,969.6 1826.0,980.1 1823.4,980.1 1823.4,982.5 1821.1,982.5 1821.1,982.5 1818.5,982.5 1818.5,985.1 1816.1,985.1 1816.1,985.1 1813.5,985.1 1813.5,982.5 1810.5,982.5 1810.5,964.6 1808.1,964.6 1808.1,967.2 1805.8,967.2 1805.8,992.4 1803.2,992.4 1803.2,992.4 1800.6,992.4 1800.6,992.4 1798.2,992.4 1798.2,969.6 1795.6,969.6 1795.6,962.3 1793.0,962.3 1793.0,959.7 1790.7,959.7 1790.7,959.7 1787.9,959.7 1787.9,969.6 1785.3,969.6 1785.3,972.2 1782.7,972.2 1782.7,972.2 1780.3,972.2 1780.3,969.6 1777.8,969.6 1777.8,969.6 1775.2,969.6 1775.2,969.6 1772.8,969.6 1772.8,972.2 1769.8,972.2 1769.8,972.2 1767.4,972.2 1767.4,972.2 1764.8,972.2 1764.8,975.0 1762.5,975.0 1762.5,977.5 1759.9,977.5 1759.9,977.5 1757.5,977.5 1757.5,964.6 1754.9,964.6 1754.9,964.6 1752.5,964.6 1752.5,964.6 1749.6,964.6 1749.6,985.1 1747.0,985.1 1747.0,985.1 1744.6,985.1 1744.6,987.5 1742.0,987.5 1742.0,990.1 1739.6,990.1 1739.6,990.1 1737.0,990.1 1737.0,1005.4 1734.7,1005.4 1734.7,1005.4 1732.1,1005.4 1732.1,1005.4 1729.1,1005.4 1729.1,995.4 1726.7,995.4 1726.7,998.0 1724.1,998.0 1724.1,995.4 1721.5,995.4 1721.5,992.4 1719.2,992.4 1719.2,1005.4 1716.8,1005.4 1716.8,1007.9 1714.2,1007.9 1714.2,1007.9 1711.6,1007.9 1711.6,1005.4 1708.8,1005.4 1708.8,980.1 1706.3,980.1 1706.3,1018.3 1703.7,1018.3 1703.7,1020.6 1701.3,1020.6 1701.3,1020.6 1698.9,1020.6 1698.9,1012.7 1696.3,1012.7 1696.3,1010.3 1693.7,1010.3 1693.7,1007.9 1691.0,1007.9 1691.0,1007.9 1688.4,1007.9 1688.4,1007.9 1686.0,1007.9 1686.0,1018.3 1683.4,1018.3 1683.4,1018.3 1681.0,1018.3 1681.0,1018.3 1678.5,1018.3 1678.5,1025.8 1675.5,1025.8 1675.5,1025.8 1673.1,1025.8 1673.1,1023.2 1670.5,1023.2 1670.5,1000.4 1668.1,1000.4 1668.1,1005.4 1665.5,1005.4 1665.5,1020.6 1663.2,1020.6 1663.2,1020.6 1660.6,1020.6 1660.6,1020.6 1658.0,1020.6 1658.0,1030.8 1655.6,1030.8 1655.6,1033.8 1652.6,1033.8 1652.6,1030.8 1650.2,1030.8 1650.2,1023.2 1647.7,1023.2 1647.7,1020.6 1645.3,1020.6 1645.3,1018.3 1642.7,1018.3 1642.7,1010.3 1640.3,1010.3 1640.3,1005.4 1637.7,1005.4 1637.7,1005.4 1635.4,1005.4 1635.4,1018.3 1632.8,1018.3 1632.8,1020.6 1629.8,1020.6 1629.8,1020.6 1627.4,1020.6 1627.4,1043.7 1624.8,1043.7 1624.8,1046.1 1622.4,1046.1 1622.4,1043.7 1619.9,1043.7 1619.9,1018.3 1614.9,1018.3 1614.9,1020.6 1612.3,1020.6 1612.3,1020.6 1609.9,1020.6 1609.9,1028.2 1607.3,1028.2 1607.3,1028.2 1605.0,1028.2 1605.0,1025.8 1602.4,1025.8 1602.4,1020.6 1600.0,1020.6 1600.0,1020.6 1597.2,1020.6 1597.2,1020.6 1594.2,1020.6 1594.2,1030.8 1591.7,1030.8 1591.7,1051.0 1588.9,1051.0 1588.9,1051.0 1586.3,1051.0 1586.3,1048.6 1583.9,1048.6 1583.9,1018.3 1581.3,1018.3 1581.3,1015.3 1578.4,1015.3 1578.4,1013.3 1576.0,1013.3 1576.0,1015.9 1573.4,1015.9 1573.4,1015.9 1571.0,1015.9 1571.0,1025.8 1568.4,1025.8 1568.4,1030.8 1566.0,1030.8 1566.0,1030.8 1563.5,1030.8 1563.5,1028.2 1561.1,1028.2 1561.1,1023.2 1558.5,1023.2 1558.5,1028.2 1556.1,1028.2 1556.1,1038.5 1553.5,1038.5 1553.5,1041.1 1550.7,1041.1 1550.7,1041.1 1548.2,1041.1 1548.2,1025.8 1545.6,1025.8 1545.6,1025.8 1543.2,1025.8 1543.2,1028.2 1540.6,1028.2 1540.6,1028.2 1538.2,1028.2 1538.2,1028.2 1535.7,1028.2 1535.7,1030.8 1533.3,1030.8 1533.3,1061.6 1530.7,1061.6 1530.7,1063.9 1527.7,1063.9 1527.7,1061.6 1525.3,1061.6 1525.3,1051.0 1522.7,1051.0 1522.7,1048.6 1520.2,1048.6 1520.2,1036.1 1517.8,1036.1 1517.8,1036.1 1515.4,1036.1 1515.4,1033.8 1512.4,1033.8 1512.4,1030.8 1509.8,1030.8 1509.8,1033.8 1507.4,1033.8 1507.4,1036.1 1504.9,1036.1 1504.9,1036.1 1502.5,1036.1 1502.5,1036.1 1499.9,1036.1 1499.9,1033.8 1497.5,1033.8 1497.5,1036.1 1494.9,1036.1 1494.9,1036.1 1492.4,1036.1 1492.4,1036.1 1489.6,1036.1 1489.6,1030.8 1487.0,1030.8 1487.0,1030.8 1484.6,1030.8 1484.6,1033.8 1482.0,1033.8 1482.0,1033.8 1479.6,1033.8 1479.6,1036.1 1476.7,1036.1 1476.7,1036.1 1474.1,1036.1 1474.1,1033.8 1471.7,1033.8 1471.7,1043.7 1469.1,1043.7 1469.1,1046.1 1466.7,1046.1 1466.7,1043.7 1464.2,1043.7 1464.2,1041.1 1461.8,1041.1 1461.8,1041.1 1459.2,1041.1 1459.2,1030.8 1456.8,1030.8 1456.8,1036.1 1454.2,1036.1 1454.2,1038.5 1451.2,1038.5 1451.2,1036.1 1448.9,1036.1 1448.9,1030.8 1446.3,1030.8 1446.3,1028.2 1443.9,1028.2 1443.9,1041.1 1441.3,1041.1 1441.3,1051.0 1438.9,1051.0 1438.9,1053.6 1436.3,1053.6 1436.3,1053.6 1434.0,1053.6 1434.0,1056.4 1431.4,1056.4 1431.4,1056.4 1428.8,1056.4 1428.8,1061.6 1426.0,1061.6 1426.0,1061.6 1423.4,1061.6 1423.4,1061.6 1421.1,1061.6 1421.1,1053.6 1418.5,1053.6 1418.5,1066.5 1416.1,1066.5 1416.1,1066.5 1413.5,1066.5 1413.5,1063.9 1410.5,1063.9 1410.5,1059.0 1408.1,1059.0 1408.1,1061.6 1405.8,1061.6 1405.8,1061.6 1403.2,1061.6 1403.2,1051.0 1400.6,1051.0 1400.6,1036.1 1398.2,1036.1 1398.2,1036.1 1395.6,1036.1 1395.6,1033.8 1393.0,1033.8 1393.0,1033.8 1390.7,1033.8 1390.7,1038.5 1387.9,1038.5 1387.9,1061.6 1385.3,1061.6 1385.3,1063.9 1382.7,1063.9 1382.7,1063.9 1380.3,1063.9 1380.3,1056.4 1377.8,1056.4 1377.8,1059.0 1375.2,1059.0 1375.2,1061.6 1372.8,1061.6 1372.8,1061.6 1369.8,1061.6 1369.8,1053.6 1367.4,1053.6 1367.4,1048.6 1364.8,1048.6 1364.8,1063.9 1362.5,1063.9 1362.5,1063.9 1359.9,1063.9 1359.9,1061.6 1357.5,1061.6 1357.5,1048.6 1354.9,1048.6 1354.9,1046.1 1352.5,1046.1 1352.5,1041.1 1349.6,1041.1 1349.6,1041.1 1347.0,1041.1 1347.0,1041.1 1344.6,1041.1 1344.6,1041.1 1342.0,1041.1 1342.0,1041.1 1339.6,1041.1 1339.6,1041.1 1337.0,1041.1 1337.0,1046.1 1334.7,1046.1 1334.7,1048.6 1332.1,1048.6 1332.1,1048.6 1329.1,1048.6 1329.1,1033.8 1326.7,1033.8 1326.7,1033.8 1324.1,1033.8 1324.1,1028.2 1321.5,1028.2 1321.5,1041.1 1319.2,1041.1 1319.2,1043.7 1316.8,1043.7 1316.8,1041.1 1314.2,1041.1 1314.2,1038.5 1311.6,1038.5 1311.6,1028.2 1308.8,1028.2 1308.8,1046.1 1306.3,1046.1 1306.3,1046.1 1303.7,1046.1 1303.7,1046.1 1301.3,1046.1 1301.3,1046.1 1298.9,1046.1 1298.9,1046.1 1296.3,1046.1 1296.3,1043.7 1293.7,1043.7 1293.7,1028.2 1291.0,1028.2 1291.0,1041.1 1288.4,1041.1 1288.4,1043.7 1286.0,1043.7 1286.0,1043.7 1283.4,1043.7 1283.4,1043.7 1281.0,1043.7 1281.0,1063.9 1275.5,1063.9 1275.5,1061.6 1273.1,1061.6 1273.1,1056.4 1270.5,1056.4 1270.5,1053.6 1268.1,1053.6 1268.1,1046.1 1265.5,1046.1 1265.5,1048.6 1263.2,1048.6 1263.2,1061.6 1258.0,1061.6 1258.0,1061.6 1255.6,1061.6 1255.6,1053.6 1252.6,1053.6 1252.6,1051.0 1250.2,1051.0 1250.2,1051.0 1247.7,1051.0 1247.7,1051.0 1245.3,1051.0 1245.3,1048.6 1242.7,1048.6 1242.7,1069.3 1240.3,1069.3 1240.3,1071.9 1237.7,1071.9 1237.7,1071.9 1235.4,1071.9 1235.4,1030.8 1232.8,1030.8 1232.8,1033.8 1229.8,1033.8 1229.8,1033.8 1227.4,1033.8 1227.4,1010.3 1224.8,1010.3 1224.8,1023.2 1222.4,1023.2 1222.4,1025.8 1219.9,1025.8 1219.9,1025.8 1217.5,1025.8 1217.5,1002.8 1214.9,1002.8 1214.9,998.0 1212.3,998.0 1212.3,998.0 1209.9,998.0 1209.9,995.4 1207.3,995.4 1207.3,979.5 1205.0,979.5 1205.0,977.5 1202.4,977.5 1202.4,956.7 1200.0,956.7 1200.0,954.7 1197.2,954.7 1197.2,926.9 1194.2,926.9 1194.2,941.8 1191.7,941.8 1191.7,944.4 1188.9,944.4 1188.9,941.8 1186.3,941.8 1186.3,928.9 1183.9,928.9 1183.9,931.9 1181.3,931.9 1181.3,957.1 1178.4,957.1 1178.4,959.7 1176.0,959.7 1176.0,967.2 1173.4,967.2 1173.4,967.2 1171.0,967.2 1171.0,969.6 1168.4,969.6 1168.4,1002.8 1166.0,1002.8 1166.0,1002.8 1163.5,1002.8 1163.5,1002.8 1161.1,1002.8 1161.1,998.0 1158.5,998.0 1158.5,1030.8 1156.1,1030.8 1156.1,1033.8 1153.5,1033.8 1153.5,1030.8 1150.7,1030.8 1150.7,1015.3 1148.2,1015.3 1148.2,1015.3 1145.6,1015.3 1145.6,1012.7 1143.2,1012.7 1143.2,1010.3 1140.6,1010.3 1140.6,1010.3 1138.2,1010.3 1138.2,1015.9 1135.7,1015.9 1135.7,1018.3 1133.3,1018.3 1133.3,1018.3 1130.7,1018.3 1130.7,1013.3 1127.7,1013.3 1127.7,1015.3 1125.3,1015.3 1125.3,1015.3 1122.7,1015.3 1122.7,1012.7 1120.2,1012.7 1120.2,1002.8 1117.8,1002.8 1117.8,1025.8 1115.4,1025.8 1115.4,1025.8 1112.4,1025.8 1112.4,1023.2 1109.8,1023.2 1109.8,1005.4 1107.4,1005.4 1107.4,1012.7 1104.9,1012.7 1104.9,1015.9 1102.5,1015.9 1102.5,1012.7 1099.9,1012.7 1099.9,1000.4 1097.5,1000.4 1097.5,1000.4 1094.9,1000.4 1094.9,998.0 1092.4,998.0 1092.4,987.5 1089.6,987.5 1089.6,977.5 1087.0,977.5 1087.0,977.5 1084.6,977.5 1084.6,977.5 1082.0,977.5 1082.0,959.7 1079.6,959.7 1079.6,946.8 1076.7,946.8 1076.7,946.8 1074.1,946.8 1074.1,944.4 1071.7,944.4 1071.7,914.0 1069.1,914.0 1069.1,916.6 1066.7,916.6 1066.7,918.0 1064.2,918.0 1064.2,919.0 1061.8,919.0 1061.8,941.8 1059.2,941.8 1059.2,941.8 1056.8,941.8 1056.8,941.8 1054.2,941.8 1054.2,941.8 1051.2,941.8 1051.2,959.7 1048.9,959.7 1048.9,962.3 1046.3,962.3 1046.3,962.3 1043.9,962.3 1043.9,1000.4 1041.3,1000.4 1041.3,1002.8 1038.9,1002.8 1038.9,1007.9 1036.3,1007.9 1036.3,1010.3 1034.0,1010.3 1034.0,1013.3 1031.4,1013.3 1031.4,1010.3 1028.8,1010.3 1028.8,1002.8 1026.0,1002.8 1026.0,1007.9 1023.4,1007.9 1023.4,1041.1 1021.1,1041.1 1021.1,1041.1 1018.5,1041.1 1018.5,1041.1 1016.1,1041.1 1016.1,1033.8 1013.5,1033.8 1013.5,1018.3 1010.5,1018.3 1010.5,1038.5 1008.1,1038.5 1008.1,1038.5 1005.8,1038.5 1005.8,1038.5 1003.2,1038.5 1003.2,1023.2 1000.6,1023.2 1000.6,1025.8 998.2,1025.8 998.2,1023.2 995.6,1023.2 995.6,1025.8 993.0,1025.8 993.0,1025.8 990.7,1025.8 990.7,1015.3 987.9,1015.3 987.9,1028.2 985.3,1028.2 985.3,1030.8 982.7,1030.8 982.7,1030.8 980.3,1030.8 980.3,1025.8 977.8,1025.8 977.8,1030.8 975.2,1030.8 975.2,1030.8 972.8,1030.8 972.8,1030.8 969.8,1030.8 969.8,1023.2 967.4,1023.2 967.4,1023.2 964.8,1023.2 964.8,1023.2 962.5,1023.2 962.5,1025.8 959.9,1025.8 959.9,1030.8 957.5,1030.8 957.5,1033.8 954.9,1033.8 954.9,1038.5 952.5,1038.5 952.5,1041.1 949.6,1041.1 949.6,1041.1 947.0,1041.1 947.0,1036.1 944.6,1036.1 944.6,1038.5 942.0,1038.5 942.0,1036.1 939.6,1036.1 939.6,1023.2 937.0,1023.2 937.0,1046.1 934.7,1046.1 934.7,1048.6 932.1,1048.6 932.1,1046.1 929.1,1046.1 929.1,1048.6 926.7,1048.6 926.7,1051.0 924.1,1051.0 924.1,1051.0 921.5,1051.0 921.5,1041.1 919.2,1041.1 919.2,1041.1 916.8,1041.1 916.8,1041.1 914.2,1041.1 914.2,1033.8 911.6,1033.8 911.6,1020.6 908.8,1020.6 908.8,1036.1 906.3,1036.1 906.3,1038.5 903.7,1038.5 903.7,1038.5 896.3,1038.5 896.3,1038.5 893.7,1038.5 893.7,1041.1 891.0,1041.1 891.0,1041.1 888.4,1041.1 888.4,1041.1 886.0,1041.1 886.0,1036.1 883.4,1036.1 883.4,1051.0 881.0,1051.0 881.0,1053.6 878.5,1053.6 878.5,1051.0 875.5,1051.0 875.5,1038.5 873.1,1038.5 873.1,1023.2 870.5,1023.2 870.5,1036.1 868.1,1036.1 868.1,1038.5 865.5,1038.5 865.5,1038.5 863.2,1038.5 863.2,1038.5 858.0,1038.5 858.0,1043.7 855.6,1043.7 855.6,1061.6 852.6,1061.6 852.6,1061.6 850.2,1061.6 850.2,1059.0 847.7,1059.0 847.7,1053.6 845.3,1053.6 845.3,1056.4 842.7,1056.4 842.7,1056.4 840.3,1056.4 840.3,1053.6 837.7,1053.6 837.7,1036.1 835.4,1036.1 835.4,1041.1 832.8,1041.1 832.8,1043.7 829.8,1043.7 829.8,1056.4 827.4,1056.4 827.4,1059.0 824.8,1059.0 824.8,1059.0 819.9,1059.0 819.9,1057.0 817.5,1057.0 817.5,1079.4 814.9,1079.4 814.9,1079.4 812.3,1079.4 812.3,1079.4 809.9,1079.4 809.9,1043.7 807.3,1043.7 807.3,1033.8 805.0,1033.8 805.0,1033.8 802.4,1033.8 802.4,1043.7 800.0,1043.7 800.0,1043.7 797.2,1043.7 797.2,1043.7 794.2,1043.7 794.2,1048.6 791.7,1048.6 791.7,1048.6 788.9,1048.6 788.9,1046.1 786.3,1046.1 786.3,1030.8 783.9,1030.8 783.9,1028.2 781.3,1028.2 781.3,1028.2 778.4,1028.2 778.4,1051.0 776.0,1051.0 776.0,1053.6 773.4,1053.6 773.4,1056.4 771.0,1056.4 771.0,1059.0 768.4,1059.0 768.4,1056.4 766.0,1056.4 766.0,1046.1 761.1,1046.1 761.1,1046.1 758.5,1046.1 758.5,1048.6 756.1,1048.6 756.1,1048.6 753.5,1048.6 753.5,1048.6 750.7,1048.6 750.7,1035.7 748.2,1035.7 748.2,1033.2 745.6,1033.2 745.6,1025.8 743.2,1025.8 743.2,1028.2 740.6,1028.2 740.6,1056.4 738.2,1056.4 738.2,1056.4 735.7,1056.4 735.7,1056.4 730.7,1056.4 730.7,1056.4 727.7,1056.4 727.7,1053.6 725.3,1053.6 725.3,1030.8 722.7,1030.8 722.7,1033.2 720.2,1033.2 720.2,1035.7 717.8,1035.7 717.8,1035.7 715.4,1035.7 715.4,1033.2 712.4,1033.2 712.4,1033.2 709.8,1033.2 709.8,1025.8 707.4,1025.8 707.4,1018.3 704.9,1018.3 704.9,977.5 702.5,977.5 702.5,972.2 699.9,972.2 699.9,964.6 697.5,964.6 697.5,964.6 694.9,964.6 694.9,979.5 692.4,979.5 692.4,990.1 689.6,990.1 689.6,990.1 687.0,990.1 687.0,987.5 684.6,987.5 684.6,969.6 682.0,969.6 682.0,972.2 679.6,972.2 679.6,985.1 676.7,985.1 676.7,997.4 674.1,997.4 674.1,1007.9 671.7,1007.9 671.7,1007.9 669.1,1007.9 669.1,1007.9 666.7,1007.9 666.7,1007.9 664.2,1007.9 664.2,1007.9 661.8,1007.9 661.8,1007.9 659.2,1007.9 659.2,1000.4 656.8,1000.4 656.8,997.4 654.2,997.4 654.2,995.0 651.2,995.0 651.2,977.5 648.9,977.5 648.9,995.0 646.3,995.0 646.3,995.0 643.9,995.0 643.9,1002.8 641.3,1002.8 641.3,1002.8 638.9,1002.8 638.9,1000.4 636.3,1000.4 636.3,987.5 634.0,987.5 634.0,985.1 631.4,985.1 631.4,982.5 628.8,982.5 628.8,985.1 626.0,985.1 626.0,985.1 623.4,985.1 623.4,969.6 621.1,969.6 621.1,961.7 618.5,961.7 618.5,961.7 616.1,961.7 616.1,956.7 613.5,956.7 613.5,967.2 610.5,967.2 610.5,967.2 608.1,967.2 608.1,964.6 605.8,964.6 605.8,956.7 603.2,956.7 603.2,969.6 600.6,969.6 600.6,982.5 598.2,982.5 598.2,985.1 595.6,985.1 595.6,982.5 593.0,982.5 593.0,985.1 590.7,985.1 590.7,987.5 587.9,987.5 587.9,987.5 585.3,987.5 585.3,985.1 582.7,985.1 582.7,982.5 580.3,982.5 580.3,987.5 577.8,987.5 577.8,1020.6 575.2,1020.6 575.2,1020.6 572.8,1020.6 572.8,1020.6 569.8,1020.6 569.8,992.4 567.4,992.4 567.4,990.1 564.8,990.1 564.8,997.4 562.5,997.4 562.5,1000.4 559.9,1000.4 559.9,1000.4 557.5,1000.4 557.5,992.4 554.9,992.4 554.9,1005.4 552.5,1005.4 552.5,1007.9 549.6,1007.9 549.6,1007.9 547.0,1007.9 547.0,1002.8 544.6,1002.8 544.6,995.0 542.0,995.0 542.0,1000.4 539.6,1000.4 539.6,1002.8 537.0,1002.8 537.0,1018.3 534.7,1018.3 534.7,1018.3 532.1,1018.3 532.1,1015.3 529.1,1015.3 529.1,1005.4 526.7,1005.4 526.7,1012.7 524.1,1012.7 524.1,1012.7 521.5,1012.7 521.5,1010.3 519.2,1010.3 519.2,1005.4 516.8,1005.4 516.8,1005.4 514.2,1005.4 514.2,1020.6 511.6,1020.6 511.6,1023.2 508.8,1023.2 508.8,1025.8 506.3,1025.8 506.3,1025.8 503.7,1025.8 503.7,1010.3 501.3,1010.3 501.3,1012.7 498.9,1012.7 498.9,1012.7 496.3,1012.7 496.3,1012.7 493.7,1012.7 493.7,1005.4 491.0,1005.4 491.0,995.0 488.4,995.0 488.4,992.4 486.0,992.4 486.0,997.4 483.4,997.4 483.4,1012.7 481.0,1012.7 481.0,1033.2 478.5,1033.2 478.5,1033.2 475.5,1033.2 475.5,1030.8 473.1,1030.8 473.1,997.4 470.5,997.4 470.5,997.4 468.1,997.4 468.1,992.4 465.5,992.4 465.5,997.4 463.2,997.4 463.2,997.4 460.6,997.4 460.6,995.4 458.0,995.4 458.0,997.4 455.6,997.4 455.6,997.4 452.6,997.4 452.6,1010.3 450.2,1010.3 450.2,1012.7 447.7,1012.7 447.7,1012.7 445.3,1012.7 445.3,1012.7 442.7,1012.7 442.7,1035.7 440.3,1035.7 440.3,1038.1 437.7,1038.1 437.7,1046.1 437.6,1046.1 437.6,1046.5 435.0,1046.5 435.0,1084.6 432.6,1084.6 432.6,1092.0 429.9,1092.0 429.9,1104.9 427.5,1104.9 427.5,1104.9 424.9,1104.9 424.9,1117.7 422.4,1117.7 422.4,1122.8 420.0,1122.8 420.0,1130.6 417.3,1130.6 417.3,1130.6 414.7,1130.6 414.7,1130.6 412.3,1130.6 412.3,1122.8 409.8,1122.8Z" fill="#33669A"/>
<path d="M409.9,730.6 412.3,730.6 412.3,688.5 419.9,688.5 419.9,690.5 424.8,690.5 424.8,682.6 427.8,682.6 427.8,648.8 430.2,648.8 430.2,623.0 432.8,623.0 432.8,567.4 435.4,567.4 435.4,554.5 437.7,554.5 437.7,526.7 440.3,526.7 440.3,521.7 445.3,521.7 445.3,524.1 447.7,524.1 447.7,534.0 452.6,534.0 452.6,546.5 455.6,546.5 455.6,544.5 458.0,544.5 458.0,544.5 460.6,544.5 460.6,544.5 463.2,544.5 463.2,554.5 465.5,554.5 465.5,554.5 468.1,554.5 468.1,549.5 470.5,549.5 470.5,547.1 475.5,547.1 475.5,549.5 478.5,549.5 478.5,551.9 481.0,551.9 481.0,565.4 483.4,565.4 483.4,567.0 486.0,567.0 486.0,537.0 488.4,537.0 488.4,537.0 491.0,537.0 491.0,537.0 493.3,537.0 493.3,542.0 496.3,542.0 496.3,549.5 499.3,549.5 499.3,551.5 503.3,551.5 503.3,547.5 506.3,547.5 506.3,549.5 508.8,549.5 508.8,561.8 511.6,561.8 511.6,557.1 514.2,557.1 514.2,557.1 516.6,557.1 516.6,557.1 519.2,557.1 519.2,557.1 521.5,557.1 521.5,519.1 524.1,519.1 524.1,516.3 526.7,516.3 526.7,519.1 529.1,519.1 529.1,523.7 532.1,523.7 532.1,522.7 537.0,522.7 537.0,557.1 539.6,557.1 539.6,557.1 542.0,557.1 542.0,539.2 544.6,539.2 544.6,539.2 547.0,539.2 547.0,542.0 550.0,542.0 550.0,561.8 552.5,561.8 552.5,551.9 554.9,551.9 554.9,549.5 557.5,549.5 557.5,549.5 559.9,549.5 559.9,554.5 564.8,554.5 564.8,539.2 567.4,539.2 567.4,539.2 569.8,539.2 569.8,542.0 572.8,542.0 572.8,551.9 575.2,551.9 575.2,564.4 577.8,564.4 577.8,531.6 580.3,531.6 580.3,529.1 582.7,529.1 582.7,531.6 585.3,531.6 585.3,557.1 587.9,557.1 587.9,513.8 590.7,513.8 590.7,511.2 593.0,511.2 593.0,511.2 595.6,511.2 595.6,529.1 598.2,529.1 598.2,531.6 600.6,531.6 600.6,526.7 603.2,526.7 603.2,505.8 605.8,505.8 605.8,503.4 608.1,503.4 608.1,503.4 610.5,503.4 610.5,503.4 613.5,503.4 613.5,505.8 616.1,505.8 616.1,503.4 618.5,503.4 618.5,505.8 621.1,505.8 621.1,503.4 623.4,503.4 623.4,503.4 626.0,503.4 626.0,505.8 628.8,505.8 628.8,531.6 631.4,531.6 631.4,511.2 634.0,511.2 634.0,508.8 636.3,508.8 636.3,508.8 638.9,508.8 638.9,508.8 641.3,508.8 641.3,511.2 643.9,511.2 643.9,531.6 648.9,531.6 648.9,531.6 651.2,531.6 651.2,534.0 654.2,534.0 654.2,554.5 656.8,554.5 656.8,567.0 659.2,567.0 659.2,567.0 661.8,567.0 661.8,572.4 664.2,572.4 664.2,572.4 666.7,572.4 666.7,574.9 669.1,574.9 669.1,569.8 671.7,569.8 671.7,567.4 674.1,567.4 674.1,569.8 679.6,569.8 679.6,572.4 682.0,572.4 682.0,554.5 684.6,554.5 684.6,551.9 687.0,551.9 687.0,554.5 689.6,554.5 689.6,579.9 692.4,579.9 692.4,595.2 694.9,595.2 694.9,593.2 697.5,593.2 697.5,582.3 699.9,582.3 699.9,564.8 702.5,564.8 702.5,564.8 704.9,564.8 704.9,564.8 707.4,564.8 707.4,582.3 709.8,582.3 709.8,567.4 712.4,567.4 712.4,564.8 715.4,564.8 715.4,567.4 717.8,567.4 717.8,574.9 720.2,574.9 720.2,589.8 722.7,589.8 722.7,602.7 725.7,602.7 725.7,592.8 728.7,592.8 728.7,592.8 732.7,592.8 732.7,600.2 735.7,600.2 735.7,602.7 738.2,602.7 738.2,589.8 740.6,589.8 740.6,587.4 743.2,587.4 743.2,587.4 745.6,587.4 745.6,605.1 748.2,605.1 748.2,620.6 750.7,620.6 750.7,592.8 753.5,592.8 753.5,590.2 755.5,590.2 755.5,592.8 758.5,592.8 758.5,597.6 761.1,597.6 761.1,595.2 763.5,595.2 763.5,596.4 768.4,596.4 768.4,592.8 771.0,592.8 771.0,595.2 773.4,595.2 773.4,607.7 776.0,607.7 776.0,607.7 778.4,607.7 778.4,597.6 781.3,597.6 781.3,590.2 783.9,590.2 783.9,590.2 786.3,590.2 786.3,590.2 788.9,590.2 788.9,602.7 791.7,602.7 791.7,584.9 794.2,584.9 794.2,569.8 797.2,569.8 797.2,569.8 800.0,569.8 800.0,572.4 802.4,572.4 802.4,595.2 805.0,595.2 805.0,598.2 807.3,598.2 807.3,610.5 809.9,610.5 809.9,610.5 812.3,610.5 812.3,603.1 814.9,603.1 814.9,598.2 817.5,598.2 817.5,598.2 819.9,598.2 819.9,598.2 822.4,598.2 822.4,590.2 824.8,590.2 824.8,590.2 827.4,590.2 827.4,590.2 829.8,590.2 829.8,595.2 832.8,595.2 832.8,605.5 837.7,605.5 837.7,605.5 840.3,605.5 840.3,605.5 842.7,605.5 842.7,590.2 845.3,590.2 845.3,582.7 847.7,582.7 847.7,574.9 850.2,574.9 850.2,574.9 855.6,574.9 855.6,579.9 857.6,579.9 857.6,579.9 860.6,579.9 860.6,582.3 863.2,582.3 863.2,579.9 865.5,579.9 865.5,577.3 868.1,577.3 868.1,577.3 873.1,577.3 873.1,574.9 875.5,574.9 875.5,577.3 878.5,577.3 878.5,574.9 881.0,574.9 881.0,574.9 886.0,574.9 886.0,577.3 888.4,577.3 888.4,579.9 891.0,579.9 891.0,577.3 893.7,577.3 893.7,569.8 896.3,569.8 896.3,554.5 898.9,554.5 898.9,554.5 901.3,554.5 901.3,554.5 903.7,554.5 903.7,542.0 906.3,542.0 906.3,542.0 908.8,542.0 908.8,544.5 911.6,544.5 911.6,561.8 914.2,561.8 914.2,554.5 916.8,554.5 916.8,551.9 921.5,551.9 921.5,564.8 924.1,564.8 924.1,559.4 926.7,559.4 926.7,549.5 929.1,549.5 929.1,549.5 932.1,549.5 932.1,551.9 934.7,551.9 934.7,577.3 937.0,577.3 937.0,577.3 939.6,577.3 939.6,569.8 942.0,569.8 942.0,559.4 944.6,559.4 944.6,544.5 947.0,544.5 947.0,542.0 949.6,542.0 949.6,544.5 952.5,544.5 952.5,561.8 954.9,561.8 954.9,559.4 957.5,559.4 957.5,559.4 959.9,559.4 959.9,549.5 962.5,549.5 962.5,547.1 964.8,547.1 964.8,549.5 967.4,549.5 967.4,557.1 969.8,557.1 969.8,559.4 972.8,559.4 972.8,554.5 975.2,554.5 975.2,516.3 977.8,516.3 977.8,516.3 980.3,516.3 980.3,519.1 982.7,519.1 982.7,544.5 985.3,544.5 985.3,561.8 987.9,561.8 987.9,557.1 990.7,557.1 990.7,554.5 993.0,554.5 993.0,557.1 995.6,557.1 995.6,557.1 998.2,557.1 998.2,559.4 1000.5,559.4 1000.5,529.0 1002.6,529.0 1002.6,526.5 1007.7,526.5 1007.7,536.8 1010.8,536.8 1010.8,539.3 1014.1,539.3 1014.1,511.1 1016.7,511.1 1016.7,511.1 1021.1,511.1 1021.1,521.3 1023.7,521.3 1023.7,523.9 1026.5,523.9 1026.5,454.5 1029.0,454.5 1029.0,453.2 1031.6,453.2 1031.6,453.2 1034.2,453.2 1034.2,454.5 1039.1,454.5 1039.1,436.5 1041.6,436.5 1041.6,432.6 1044.2,432.6 1044.2,401.8 1046.8,401.8 1046.8,322.1 1049.4,322.1 1049.4,319.5 1051.9,319.5 1051.9,317.0 1054.5,317.0 1054.5,270.7 1057.1,270.7 1057.1,268.1 1059.6,268.1 1059.6,216.7 1062.2,216.7 1062.2,215.4 1064.8,215.4 1064.8,216.7 1067.4,216.7 1067.4,248.8 1069.9,248.8 1069.9,254.0 1072.5,254.0 1072.5,299.0 1075.1,299.0 1075.1,310.5 1077.6,310.5 1077.6,338.8 1080.2,338.8 1080.2,376.1 1082.8,376.1 1082.8,381.2 1085.3,381.2 1085.3,427.5 1087.9,427.5 1087.9,453.2 1090.5,453.2 1090.5,463.5 1093.1,463.5 1093.1,477.6 1095.6,477.6 1095.6,481.5 1098.2,481.5 1098.2,482.8 1100.8,482.8 1100.8,480.2 1103.3,480.2 1103.3,482.8 1105.9,482.8 1105.9,508.5 1108.5,508.5 1108.5,505.9 1111.1,505.9 1111.1,505.9 1116.2,505.9 1116.2,505.9 1118.8,505.9 1118.8,505.9 1120.8,505.9 1120.8,549.6 1123.4,549.6 1123.4,536.8 1126.0,536.8 1126.0,523.9 1128.5,523.9 1128.5,516.2 1131.1,516.2 1131.1,513.6 1133.7,513.6 1133.7,514.9 1136.2,514.9 1136.2,523.9 1138.8,523.9 1138.8,523.9 1141.4,523.9 1141.4,523.9 1144.0,523.9 1144.0,526.5 1146.5,526.5 1146.5,523.9 1149.1,523.9 1149.1,516.2 1151.7,516.2 1151.7,513.6 1154.2,513.6 1154.2,513.6 1156.8,513.6 1156.8,505.9 1159.4,505.9 1159.4,503.3 1162.0,503.3 1162.0,503.3 1164.5,503.3 1164.5,495.6 1167.1,495.6 1167.1,472.5 1169.7,472.5 1169.7,458.4 1172.2,458.4 1172.2,457.1 1174.8,457.1 1174.8,417.2 1177.4,417.2 1177.4,401.8 1179.9,401.8 1179.9,345.2 1182.5,345.2 1182.5,342.7 1185.1,342.7 1185.1,344.0 1187.7,344.0 1187.7,345.2 1190.2,345.2 1190.2,345.2 1192.8,345.2 1192.8,356.8 1195.4,356.8 1195.4,360.7 1197.9,360.7 1197.9,362.0 1200.5,362.0 1200.5,376.1 1203.1,376.1 1203.1,388.9 1205.7,388.9 1205.7,390.2 1208.2,390.2 1208.2,422.4 1210.8,422.4 1210.8,437.8 1213.4,437.8 1213.4,462.2 1215.9,462.2 1215.9,491.8 1218.5,491.8 1218.5,531.6 1221.1,531.6 1221.1,541.9 1223.7,541.9 1223.7,547.0 1226.2,547.0 1226.2,566.3 1228.8,566.3 1228.8,565.4 1230.2,565.4 1230.2,567.4 1232.8,567.4 1232.8,582.7 1237.7,582.7 1237.7,582.7 1240.3,582.7 1240.3,603.1 1242.7,603.1 1242.7,605.1 1245.3,605.1 1245.3,613.1 1247.7,613.1 1247.7,610.7 1250.2,610.7 1250.2,590.2 1252.6,590.2 1252.6,588.2 1255.2,588.2 1255.2,590.2 1258.0,590.2 1258.0,610.7 1260.6,610.7 1260.6,610.7 1263.2,610.7 1263.2,608.1 1265.5,608.1 1265.5,605.5 1268.1,605.5 1268.1,608.1 1270.5,608.1 1270.5,618.0 1273.1,618.0 1273.1,616.0 1275.5,616.0 1275.5,618.0 1278.5,618.0 1278.5,623.0 1281.0,623.0 1281.0,620.6 1283.4,620.6 1283.4,603.1 1286.0,603.1 1286.0,600.2 1288.4,600.2 1288.4,603.1 1291.0,603.1 1291.0,605.1 1293.7,605.1 1293.7,605.5 1296.3,605.5 1296.3,608.1 1298.9,608.1 1298.9,628.0 1301.3,628.0 1301.3,633.3 1303.7,633.3 1303.7,630.9 1306.3,630.9 1306.3,628.0 1308.8,628.0 1308.8,630.9 1311.6,630.9 1311.6,610.7 1314.2,610.7 1314.2,608.1 1316.6,608.1 1316.6,608.1 1319.2,608.1 1319.2,605.5 1321.5,605.5 1321.5,579.9 1324.1,579.9 1324.1,577.3 1326.7,577.3 1326.7,577.3 1329.1,577.3 1329.1,600.2 1332.1,600.2 1332.1,626.0 1334.7,626.0 1334.7,605.5 1337.0,605.5 1337.0,603.1 1339.6,603.1 1339.6,605.5 1344.6,605.5 1344.6,605.5 1347.0,605.5 1347.0,605.5 1349.6,605.5 1349.6,608.1 1352.5,608.1 1352.5,608.1 1354.9,608.1 1354.9,615.5 1357.5,615.5 1357.5,628.0 1359.9,628.0 1359.9,626.0 1362.5,626.0 1362.5,620.6 1364.8,620.6 1364.8,620.6 1367.4,620.6 1367.4,613.1 1369.8,613.1 1369.8,608.1 1372.8,608.1 1372.8,605.5 1375.2,605.5 1375.2,608.1 1377.8,608.1 1377.8,613.1 1380.3,613.1 1380.3,610.7 1382.7,610.7 1382.7,613.1 1385.3,613.1 1385.3,623.0 1387.9,623.0 1387.9,613.1 1390.7,613.1 1390.7,613.1 1393.0,613.1 1393.0,615.5 1395.6,615.5 1395.6,626.0 1398.2,626.0 1398.2,623.0 1400.6,623.0 1400.6,626.0 1403.2,626.0 1403.2,635.9 1405.8,635.9 1405.8,633.3 1408.1,633.3 1408.1,620.6 1410.5,620.6 1410.5,618.0 1413.5,618.0 1413.5,615.5 1416.1,615.5 1416.1,608.1 1418.5,608.1 1418.5,605.5 1421.1,605.5 1421.1,608.1 1423.4,608.1 1423.4,618.0 1426.0,618.0 1426.0,618.0 1428.8,618.0 1428.8,620.6 1431.4,620.6 1431.4,615.5 1434.0,615.5 1434.0,603.1 1436.3,603.1 1436.3,603.1 1438.9,603.1 1438.9,605.5 1441.3,605.5 1441.3,608.1 1443.9,608.1 1443.9,610.7 1446.3,610.7 1446.3,598.2 1448.9,598.2 1448.9,598.2 1451.2,598.2 1451.2,600.2 1454.2,600.2 1454.2,623.0 1456.8,623.0 1456.8,626.0 1459.2,626.0 1459.2,628.0 1461.8,628.0 1461.8,623.0 1464.2,623.0 1464.2,623.0 1466.7,623.0 1466.7,626.0 1469.1,626.0 1469.1,628.0 1471.7,628.0 1471.7,613.1 1474.1,613.1 1474.1,613.1 1476.7,613.1 1476.7,613.1 1479.6,613.1 1479.6,633.3 1482.0,633.3 1482.0,635.9 1484.6,635.9 1484.6,608.1 1487.0,608.1 1487.0,605.5 1489.6,605.5 1489.6,605.5 1492.4,605.5 1492.4,618.0 1494.9,618.0 1494.9,600.2 1497.5,600.2 1497.5,590.2 1499.9,590.2 1499.9,589.8 1502.5,589.8 1502.5,592.6 1504.9,592.6 1504.9,597.6 1507.4,597.6 1507.4,597.6 1509.8,597.6 1509.8,615.5 1512.4,615.5 1512.4,613.1 1515.4,613.1 1515.4,615.5 1517.8,615.5 1517.8,623.0 1520.2,623.0 1520.2,620.6 1522.7,620.6 1522.7,610.7 1525.3,610.7 1525.3,608.1 1527.7,608.1 1527.7,610.7 1530.7,610.7 1530.7,592.6 1533.3,592.6 1533.3,592.6 1535.7,592.6 1535.7,592.6 1538.2,592.6 1538.2,620.6 1540.6,620.6 1540.6,623.0 1543.2,623.0 1543.2,626.0 1545.6,626.0 1545.6,608.1 1548.2,608.1 1548.2,605.1 1550.7,605.1 1550.7,607.7 1553.5,607.7 1553.5,607.7 1556.1,607.7 1556.1,605.5 1558.5,605.5 1558.5,605.5 1561.1,605.5 1561.1,610.7 1563.5,610.7 1563.5,613.1 1566.0,613.1 1566.0,613.1 1568.4,613.1 1568.4,600.2 1571.0,600.2 1571.0,597.6 1573.4,597.6 1573.4,600.2 1576.0,600.2 1576.0,602.7 1578.4,602.7 1578.4,600.2 1581.3,600.2 1581.3,603.1 1583.9,603.1 1583.9,615.5 1586.3,615.5 1586.3,615.5 1588.9,615.5 1588.9,618.0 1591.7,618.0 1591.7,615.5 1594.2,615.5 1594.2,615.5 1597.2,615.5 1597.2,613.1 1600.0,613.1 1600.0,608.1 1602.4,608.1 1602.4,605.5 1605.0,605.5 1605.0,608.1 1607.3,608.1 1607.3,620.6 1609.9,620.6 1609.9,623.0 1612.3,623.0 1612.3,610.7 1614.9,610.7 1614.9,608.1 1619.9,608.1 1619.9,615.5 1622.4,615.5 1622.4,605.5 1624.8,605.5 1624.8,605.5 1627.4,605.5 1627.4,605.5 1630.2,605.5 1630.2,590.2 1632.8,590.2 1632.8,587.6 1635.4,587.6 1635.4,590.2 1637.7,590.2 1637.7,597.6 1640.3,597.6 1640.3,598.2 1642.7,598.2 1642.7,598.2 1645.3,598.2 1645.3,608.1 1647.7,608.1 1647.7,608.1 1650.2,608.1 1650.2,613.1 1652.6,613.1 1652.6,615.5 1655.2,615.5 1655.2,615.5 1658.0,615.5 1658.0,592.6 1660.6,592.6 1660.6,587.6 1663.2,587.6 1663.2,587.6 1665.5,587.6 1665.5,590.2 1668.1,590.2 1668.1,607.7 1670.5,607.7 1670.5,608.1 1673.1,608.1 1673.1,610.5 1675.5,610.5 1675.5,610.5 1678.5,610.5 1678.5,582.7 1681.0,582.7 1681.0,582.7 1683.4,582.7 1683.4,585.3 1686.0,585.3 1686.0,602.7 1688.4,602.7 1688.4,605.5 1691.0,605.5 1691.0,605.5 1693.7,605.5 1693.7,595.2 1696.3,595.2 1696.3,595.2 1698.9,595.2 1698.9,592.6 1701.3,592.6 1701.3,590.2 1703.7,590.2 1703.7,590.2 1706.3,590.2 1706.3,572.4 1708.8,572.4 1708.8,561.8 1711.6,561.8 1711.6,561.8 1714.2,561.8 1714.2,561.8 1716.8,561.8 1716.8,602.7 1719.2,602.7 1719.2,595.2 1721.5,595.2 1721.5,592.6 1724.1,592.6 1724.1,559.4 1726.7,559.4 1726.7,557.1 1729.1,557.1 1729.1,559.4 1732.1,559.4 1732.1,595.2 1734.7,595.2 1734.7,582.7 1737.0,582.7 1737.0,579.9 1739.6,579.9 1739.6,559.4 1742.0,559.4 1742.0,559.4 1744.6,559.4 1744.6,559.4 1747.0,559.4 1747.0,551.9 1749.6,551.9 1749.6,549.5 1752.5,549.5 1752.5,551.9 1754.9,551.9 1754.9,554.5 1757.5,554.5 1757.5,561.8 1759.9,561.8 1759.9,549.5 1762.5,549.5 1762.5,544.5 1764.8,544.5 1764.8,542.0 1767.4,542.0 1767.4,542.0 1769.8,542.0 1769.8,542.0 1772.8,542.0 1772.8,539.2 1775.2,539.2 1775.2,542.0 1777.8,542.0 1777.8,539.2 1780.3,539.2 1780.3,536.6 1782.7,536.6 1782.7,539.2 1785.3,539.2 1785.3,559.4 1787.9,559.4 1787.9,559.4 1790.7,559.4 1790.7,557.1 1793.0,557.1 1793.0,557.1 1795.6,557.1 1795.6,574.9 1798.2,574.9 1798.2,577.3 1800.6,577.3 1800.6,572.4 1803.2,572.4 1803.2,564.4 1805.8,564.4 1805.8,561.8 1808.1,561.8 1808.1,564.4 1810.5,564.4 1810.5,582.7 1813.5,582.7 1813.5,561.8 1816.1,561.8 1816.1,559.4 1818.5,559.4 1818.5,561.8 1821.1,561.8 1821.1,592.6 1823.4,592.6 1823.4,588.2 1826.0,588.2 1826.0,587.6 1828.8,587.6 1828.8,564.8 1831.4,564.8 1831.4,564.8 1834.0,564.8 1834.0,559.4 1836.3,559.4 1836.3,557.1 1838.9,557.1 1838.9,557.1 1841.3,557.1 1841.3,564.4 1843.9,564.4 1843.9,561.8 1848.9,561.8 1848.9,587.6 1851.2,587.6 1851.2,582.7 1854.2,582.7 1854.2,579.9 1856.8,579.9 1856.8,579.9 1859.2,579.9 1859.2,584.9 1861.8,584.9 1861.8,561.8 1864.2,561.8 1864.2,559.4 1866.7,559.4 1866.7,561.8 1869.1,561.8 1869.1,554.5 1871.7,554.5 1871.7,551.9 1874.1,551.9 1874.1,551.9 1876.7,551.9 1876.7,561.8 1879.6,561.8 1879.6,564.4 1882.0,564.4 1882.0,564.8 1884.6,564.8 1884.6,554.5 1887.0,554.5 1887.0,551.9 1889.6,551.9 1889.6,554.5 1892.4,554.5 1892.4,557.1 1894.9,557.1 1894.9,542.0 1897.5,542.0 1897.5,539.2 1899.9,539.2 1899.9,539.2 1902.5,539.2 1902.5,554.5 1904.9,554.5 1904.9,582.7 1907.4,582.7 1907.4,559.4 1909.8,559.4 1909.8,557.1 1912.4,557.1 1912.4,559.4 1915.4,559.4 1915.4,559.4 1917.8,559.4 1917.8,587.6 1920.2,587.6 1920.2,579.9 1922.7,579.9 1922.7,577.3 1925.3,577.3 1925.3,577.3 1930.7,577.3 1930.7,577.3 1933.3,577.3 1933.3,577.3 1938.2,577.3 1938.2,582.7 1940.6,582.7 1940.6,584.9 1943.2,584.9 1943.2,587.6 1945.6,587.6 1945.6,567.4 1948.2,567.4 1948.2,567.0 1950.7,567.0 1950.7,569.8 1953.5,569.8 1953.5,595.2 1956.1,595.2 1956.1,587.6 1958.5,587.6 1958.5,587.6 1963.5,587.6 1963.5,597.6 1966.0,597.6 1966.0,597.6 1968.4,597.6 1968.4,598.2 1971.0,598.2 1971.0,613.1 1973.4,613.1 1973.4,610.5 1976.0,610.5 1976.0,584.9 1978.4,584.9 1978.4,582.7 1981.3,582.7 1981.3,582.7 1983.9,582.7 1983.9,584.9 1986.3,584.9 1986.3,602.7 1988.9,602.7 1988.9,605.5 1991.7,605.5 1991.7,600.2 1994.2,600.2 1994.2,600.8 1995.3,600.8 1995.3,598.3 1997.9,598.3 1997.9,588.0 2000.5,588.0 2000.5,588.0 2003.1,588.0 2003.1,590.5 2005.6,590.5 2005.6,610.8 2008.2,610.8 2008.2,582.6 2010.8,582.6 2010.8,582.6 2015.5,582.6 2015.5,585.4 2018.1,585.4 2018.1,585.4 2020.7,585.4 2020.7,588.0 2023.2,588.0 2023.2,607.9 2020.7,607.9 2020.7,643.9 2018.1,643.9 2018.1,645.8 2015.5,645.8 2015.5,648.4 2010.8,648.4 2010.8,648.4 2008.2,648.4 2008.2,653.5 2005.6,653.5 2005.6,653.5 2003.1,653.5 2003.1,681.8 2000.5,681.8 2000.5,684.4 1997.9,684.4 1997.9,684.4 1995.3,684.4 1995.3,663.8 1994.2,663.8 1994.2,663.7 1991.7,663.7 1991.7,653.8 1988.9,653.8 1988.9,653.8 1986.3,653.8 1986.3,653.8 1983.9,653.8 1983.9,638.5 1981.3,638.5 1981.3,645.8 1978.4,645.8 1978.4,650.8 1976.0,650.8 1976.0,653.8 1973.4,653.8 1973.4,656.2 1971.0,656.2 1971.0,653.8 1968.4,653.8 1968.4,650.8 1966.0,650.8 1966.0,653.8 1963.5,653.8 1963.5,650.8 1958.5,650.8 1958.5,650.8 1956.1,650.8 1956.1,661.1 1953.5,661.1 1953.5,686.6 1950.7,686.6 1950.7,689.5 1948.2,689.5 1948.2,686.6 1945.6,686.6 1945.6,661.1 1943.2,661.1 1943.2,658.7 1940.6,658.7 1940.6,648.4 1938.2,648.4 1938.2,658.7 1933.3,658.7 1933.3,661.1 1930.7,661.1 1930.7,666.7 1925.3,666.7 1925.3,666.7 1922.7,666.7 1922.7,643.5 1920.2,643.5 1920.2,638.5 1917.8,638.5 1917.8,638.5 1915.4,638.5 1915.4,635.9 1912.4,635.9 1912.4,630.9 1909.8,630.9 1909.8,635.9 1907.4,635.9 1907.4,650.8 1904.9,650.8 1904.9,653.8 1902.5,653.8 1902.5,650.8 1899.9,650.8 1899.9,635.9 1897.5,635.9 1897.5,620.6 1894.9,620.6 1894.9,626.0 1892.4,626.0 1892.4,638.5 1889.6,638.5 1889.6,640.9 1887.0,640.9 1887.0,640.9 1884.6,640.9 1884.6,640.9 1882.0,640.9 1882.0,635.9 1879.6,635.9 1879.6,635.9 1876.7,635.9 1876.7,635.9 1874.1,635.9 1874.1,635.9 1871.7,635.9 1871.7,613.1 1869.1,613.1 1869.1,613.1 1866.7,613.1 1866.7,648.4 1864.2,648.4 1864.2,648.4 1861.8,648.4 1861.8,648.4 1859.2,648.4 1859.2,648.4 1856.8,648.4 1856.8,640.9 1854.2,640.9 1854.2,645.8 1851.2,645.8 1851.2,645.8 1848.9,645.8 1848.9,656.2 1843.9,656.2 1843.9,656.2 1841.3,656.2 1841.3,635.9 1838.9,635.9 1838.9,630.9 1836.3,630.9 1836.3,626.0 1834.0,626.0 1834.0,628.0 1831.4,628.0 1831.4,635.9 1828.8,635.9 1828.8,640.9 1826.0,640.9 1826.0,650.8 1823.4,650.8 1823.4,650.8 1821.1,650.8 1821.1,656.2 1818.5,656.2 1818.5,656.2 1816.1,656.2 1816.1,656.2 1813.5,656.2 1813.5,640.9 1810.5,640.9 1810.5,640.9 1808.1,640.9 1808.1,620.6 1805.8,620.6 1805.8,620.6 1803.2,620.6 1803.2,618.0 1800.6,618.0 1800.6,618.0 1798.2,618.0 1798.2,618.0 1795.6,618.0 1795.6,618.0 1793.0,618.0 1793.0,615.5 1790.7,615.5 1790.7,607.7 1787.9,607.7 1787.9,613.1 1785.3,613.1 1785.3,620.6 1782.7,620.6 1782.7,620.6 1780.3,620.6 1780.3,618.0 1777.8,618.0 1777.8,610.5 1775.2,610.5 1775.2,610.5 1772.8,610.5 1772.8,610.1 1769.8,610.1 1769.8,607.7 1767.4,607.7 1767.4,603.1 1764.8,603.1 1764.8,600.2 1762.5,600.2 1762.5,600.2 1759.9,600.2 1759.9,607.7 1757.5,607.7 1757.5,610.5 1754.9,610.5 1754.9,610.5 1752.5,610.5 1752.5,600.2 1749.6,600.2 1749.6,615.5 1747.0,615.5 1747.0,615.5 1744.6,615.5 1744.6,628.0 1742.0,628.0 1742.0,626.0 1739.6,626.0 1739.6,628.0 1737.0,628.0 1737.0,635.9 1734.7,635.9 1734.7,648.4 1732.1,648.4 1732.1,650.8 1729.1,650.8 1729.1,648.4 1726.7,648.4 1726.7,628.0 1724.1,628.0 1724.1,638.5 1721.5,638.5 1721.5,643.5 1719.2,643.5 1719.2,643.5 1716.8,643.5 1716.8,643.5 1714.2,643.5 1714.2,635.9 1711.6,635.9 1711.6,628.0 1708.8,628.0 1708.8,650.8 1706.3,650.8 1706.3,650.8 1703.7,650.8 1703.7,651.4 1701.3,651.4 1701.3,653.8 1698.9,653.8 1698.9,653.8 1696.3,653.8 1696.3,653.8 1693.7,653.8 1693.7,656.2 1691.0,656.2 1691.0,656.2 1688.4,656.2 1688.4,653.8 1686.0,653.8 1686.0,653.8 1683.4,653.8 1683.4,638.5 1681.0,638.5 1681.0,666.7 1678.5,666.7 1678.5,668.7 1675.5,668.7 1675.5,668.7 1673.1,668.7 1673.1,666.3 1670.5,666.3 1670.5,650.8 1668.1,650.8 1668.1,650.8 1665.5,650.8 1665.5,650.8 1663.2,650.8 1663.2,645.8 1660.6,645.8 1660.6,643.5 1658.0,643.5 1658.0,656.2 1655.2,656.2 1655.2,668.7 1652.6,668.7 1652.6,671.7 1650.2,671.7 1650.2,671.7 1647.7,671.7 1647.7,674.2 1645.3,674.2 1645.3,676.6 1642.7,676.6 1642.7,676.6 1640.3,676.6 1640.3,658.7 1637.7,658.7 1637.7,661.1 1635.4,661.1 1635.4,661.1 1632.8,661.1 1632.8,653.8 1630.2,653.8 1630.2,653.8 1627.4,653.8 1627.4,658.7 1624.8,658.7 1624.8,671.3 1622.4,671.3 1622.4,673.6 1619.9,673.6 1619.9,673.6 1614.9,673.6 1614.9,674.2 1612.3,674.2 1612.3,679.2 1609.9,679.2 1609.9,681.6 1607.3,681.6 1607.3,681.6 1605.0,681.6 1605.0,679.2 1602.4,679.2 1602.4,668.7 1600.0,668.7 1600.0,668.7 1597.2,668.7 1597.2,671.7 1594.2,671.7 1594.2,674.2 1591.7,674.2 1591.7,676.6 1588.9,676.6 1588.9,679.2 1586.3,679.2 1586.3,676.6 1583.9,676.6 1583.9,661.1 1581.3,661.1 1581.3,663.7 1578.4,663.7 1578.4,661.1 1576.0,661.1 1576.0,658.7 1573.4,658.7 1573.4,676.6 1571.0,676.6 1571.0,679.2 1568.4,679.2 1568.4,679.2 1566.0,679.2 1566.0,687.1 1563.5,687.1 1563.5,689.5 1561.1,689.5 1561.1,689.5 1558.5,689.5 1558.5,679.2 1556.1,679.2 1556.1,679.2 1553.5,679.2 1553.5,681.6 1550.7,681.6 1550.7,681.6 1548.2,681.6 1548.2,676.6 1545.6,676.6 1545.6,676.6 1543.2,676.6 1543.2,663.7 1540.6,663.7 1540.6,668.7 1538.2,668.7 1538.2,689.5 1535.7,689.5 1535.7,692.1 1533.3,692.1 1533.3,692.1 1530.7,692.1 1530.7,671.7 1527.7,671.7 1527.7,676.6 1525.3,676.6 1525.3,679.2 1522.7,679.2 1522.7,676.6 1520.2,676.6 1520.2,676.6 1517.8,676.6 1517.8,676.6 1515.4,676.6 1515.4,679.2 1512.4,679.2 1512.4,676.6 1509.8,676.6 1509.8,681.6 1507.4,681.6 1507.4,686.6 1504.9,686.6 1504.9,694.5 1502.5,694.5 1502.5,697.1 1499.9,697.1 1499.9,694.5 1497.5,694.5 1497.5,697.1 1494.9,697.1 1494.9,697.1 1492.4,697.1 1492.4,697.1 1489.6,697.1 1489.6,673.6 1487.0,673.6 1487.0,666.7 1484.6,666.7 1484.6,668.7 1482.0,668.7 1482.0,694.5 1479.6,694.5 1479.6,694.5 1476.7,694.5 1476.7,692.1 1474.1,692.1 1474.1,666.7 1471.7,666.7 1471.7,668.7 1469.1,668.7 1469.1,673.6 1466.7,673.6 1466.7,674.2 1464.2,674.2 1464.2,676.6 1461.8,676.6 1461.8,679.2 1459.2,679.2 1459.2,681.6 1456.8,681.6 1456.8,681.6 1454.2,681.6 1454.2,679.2 1451.2,679.2 1451.2,694.5 1448.9,694.5 1448.9,694.5 1446.3,694.5 1446.3,694.5 1443.9,694.5 1443.9,681.6 1441.3,681.6 1441.3,663.7 1438.9,663.7 1438.9,666.7 1436.3,666.7 1436.3,702.0 1434.0,702.0 1434.0,702.0 1431.4,702.0 1431.4,699.5 1428.8,699.5 1428.8,686.6 1426.0,686.6 1426.0,686.6 1423.4,686.6 1423.4,684.6 1421.1,684.6 1421.1,676.6 1418.5,676.6 1418.5,674.2 1416.1,674.2 1416.1,671.7 1413.5,671.7 1413.5,663.7 1410.5,663.7 1410.5,663.7 1408.1,663.7 1408.1,684.6 1405.8,684.6 1405.8,686.6 1403.2,686.6 1403.2,687.1 1400.6,687.1 1400.6,689.5 1398.2,689.5 1398.2,686.6 1395.6,686.6 1395.6,668.7 1393.0,668.7 1393.0,671.7 1390.7,671.7 1390.7,671.7 1387.9,671.7 1387.9,669.1 1385.3,669.1 1385.3,674.2 1382.7,674.2 1382.7,676.6 1380.3,676.6 1380.3,676.6 1377.8,676.6 1377.8,674.6 1375.2,674.6 1375.2,689.5 1372.8,689.5 1372.8,689.5 1369.8,689.5 1369.8,686.6 1367.4,686.6 1367.4,679.2 1364.8,679.2 1364.8,702.0 1362.5,702.0 1362.5,702.0 1359.9,702.0 1359.9,699.5 1357.5,699.5 1357.5,702.0 1354.9,702.0 1354.9,702.0 1352.5,702.0 1352.5,699.5 1349.6,699.5 1349.6,686.6 1347.0,686.6 1347.0,668.7 1344.6,668.7 1344.6,671.3 1339.6,671.3 1339.6,671.3 1337.0,671.3 1337.0,669.1 1334.7,669.1 1334.7,668.7 1332.1,668.7 1332.1,663.7 1329.1,663.7 1329.1,661.1 1326.7,661.1 1326.7,666.7 1324.1,666.7 1324.1,666.7 1321.5,666.7 1321.5,692.1 1319.2,692.1 1319.2,694.5 1316.6,694.5 1316.6,691.5 1314.2,691.5 1314.2,671.7 1311.6,671.7 1311.6,671.7 1308.8,671.7 1308.8,679.2 1306.3,679.2 1306.3,679.2 1303.7,679.2 1303.7,694.5 1301.3,694.5 1301.3,707.0 1298.9,707.0 1298.9,707.0 1296.3,707.0 1296.3,704.4 1293.7,704.4 1293.7,674.2 1291.0,674.2 1291.0,676.6 1288.4,676.6 1288.4,673.6 1286.0,673.6 1286.0,673.6 1283.4,673.6 1283.4,673.6 1281.0,673.6 1281.0,671.7 1278.5,671.7 1278.5,671.7 1275.5,671.7 1275.5,671.7 1273.1,671.7 1273.1,678.6 1270.5,678.6 1270.5,678.6 1268.1,678.6 1268.1,678.6 1265.5,678.6 1265.5,658.7 1263.2,658.7 1263.2,658.7 1260.6,658.7 1260.6,671.7 1258.0,671.7 1258.0,671.7 1255.2,671.7 1255.2,671.7 1252.6,671.7 1252.6,661.7 1250.2,661.7 1250.2,666.7 1247.7,666.7 1247.7,676.6 1245.3,676.6 1245.3,678.6 1242.7,678.6 1242.7,678.6 1240.3,678.6 1240.3,671.7 1237.7,671.7 1237.7,645.8 1232.8,645.8 1232.8,643.9 1230.2,643.9 1230.2,615.1 1228.8,615.1 1228.8,606.2 1226.2,606.2 1226.2,598.5 1223.7,598.5 1223.7,597.2 1221.1,597.2 1221.1,590.7 1218.5,590.7 1218.5,586.9 1215.9,586.9 1215.9,568.9 1213.4,568.9 1213.4,534.2 1210.8,534.2 1210.8,531.6 1208.2,531.6 1208.2,503.3 1205.7,503.3 1205.7,500.8 1203.1,500.8 1203.1,454.5 1200.5,454.5 1200.5,451.9 1197.9,451.9 1197.9,426.2 1195.4,426.2 1195.4,426.2 1192.8,426.2 1192.8,426.2 1190.2,426.2 1190.2,412.1 1187.7,412.1 1187.7,436.5 1185.1,436.5 1185.1,454.5 1182.5,454.5 1182.5,472.5 1179.9,472.5 1179.9,491.8 1177.4,491.8 1177.4,507.2 1174.8,507.2 1174.8,518.8 1172.2,518.8 1172.2,535.5 1169.7,535.5 1169.7,563.8 1167.1,563.8 1167.1,576.6 1164.5,576.6 1164.5,579.2 1162.0,579.2 1162.0,577.9 1159.4,577.9 1159.4,565.0 1156.8,565.0 1156.8,574.0 1154.2,574.0 1154.2,577.9 1151.7,577.9 1151.7,607.5 1149.1,607.5 1149.1,610.0 1146.5,610.0 1146.5,610.0 1144.0,610.0 1144.0,572.8 1141.4,572.8 1141.4,570.2 1138.8,570.2 1138.8,576.6 1136.2,576.6 1136.2,579.2 1133.7,579.2 1133.7,579.2 1131.1,579.2 1131.1,575.3 1128.5,575.3 1128.5,581.7 1126.0,581.7 1126.0,599.7 1123.4,599.7 1123.4,599.7 1120.8,599.7 1120.8,598.5 1118.8,598.5 1118.8,593.3 1116.2,593.3 1116.2,579.2 1111.1,579.2 1111.1,562.5 1108.5,562.5 1108.5,579.2 1105.9,579.2 1105.9,579.2 1103.3,579.2 1103.3,579.2 1100.8,579.2 1100.8,557.3 1098.2,557.3 1098.2,554.8 1095.6,554.8 1095.6,552.2 1093.1,552.2 1093.1,547.0 1090.5,547.0 1090.5,539.3 1087.9,539.3 1087.9,535.5 1085.3,535.5 1085.3,495.6 1082.8,495.6 1082.8,475.1 1080.2,475.1 1080.2,433.9 1077.6,433.9 1077.6,433.9 1075.1,433.9 1075.1,388.9 1072.5,388.9 1072.5,362.0 1069.9,362.0 1069.9,359.4 1067.4,359.4 1067.4,356.8 1064.8,356.8 1064.8,302.8 1062.2,302.8 1062.2,319.5 1059.6,319.5 1059.6,362.0 1057.1,362.0 1057.1,365.8 1054.5,365.8 1054.5,403.1 1051.9,403.1 1051.9,454.5 1049.4,454.5 1049.4,464.8 1046.8,464.8 1046.8,480.2 1044.2,480.2 1044.2,487.9 1041.6,487.9 1041.6,498.2 1039.1,498.2 1039.1,534.2 1034.2,534.2 1034.2,535.5 1031.6,535.5 1031.6,563.8 1029.0,563.8 1029.0,566.3 1026.5,566.3 1026.5,594.6 1023.7,594.6 1023.7,602.3 1021.1,602.3 1021.1,604.9 1016.7,604.9 1016.7,597.2 1014.1,597.2 1014.1,603.6 1010.8,603.6 1010.8,608.7 1007.7,608.7 1007.7,612.6 1002.6,612.6 1002.6,601.0 1000.5,601.0 1000.5,602.7 998.2,602.7 998.2,600.2 995.6,600.2 995.6,598.2 993.0,598.2 993.0,615.5 990.7,615.5 990.7,615.5 987.9,615.5 987.9,623.0 985.3,623.0 985.3,623.0 982.7,623.0 982.7,623.0 980.3,623.0 980.3,615.5 977.8,615.5 977.8,615.5 975.2,615.5 975.2,613.1 972.8,613.1 972.8,607.7 969.8,607.7 969.8,615.5 967.4,615.5 967.4,618.0 964.8,618.0 964.8,615.5 962.5,615.5 962.5,610.1 959.9,610.1 959.9,613.1 957.5,613.1 957.5,630.5 954.9,630.5 954.9,630.5 952.5,630.5 952.5,630.5 949.6,630.5 949.6,620.6 947.0,620.6 947.0,607.7 944.6,607.7 944.6,607.7 942.0,607.7 942.0,607.7 939.6,607.7 939.6,605.1 937.0,605.1 937.0,612.7 934.7,612.7 934.7,615.5 932.1,615.5 932.1,615.5 929.1,615.5 929.1,612.7 926.7,612.7 926.7,612.7 924.1,612.7 924.1,612.7 921.5,612.7 921.5,612.7 916.8,612.7 916.8,628.0 914.2,628.0 914.2,630.5 911.6,630.5 911.6,630.5 908.8,630.5 908.8,623.0 906.3,623.0 906.3,626.0 903.7,626.0 903.7,666.3 901.3,666.3 901.3,668.7 898.9,668.7 898.9,668.7 896.3,668.7 896.3,628.0 893.7,628.0 893.7,640.9 891.0,640.9 891.0,640.9 888.4,640.9 888.4,648.4 886.0,648.4 886.0,648.4 881.0,648.4 881.0,643.5 878.5,643.5 878.5,642.9 875.5,642.9 875.5,638.5 873.1,638.5 873.1,640.9 868.1,640.9 868.1,643.5 865.5,643.5 865.5,643.5 863.2,643.5 863.2,640.9 860.6,640.9 860.6,638.5 857.6,638.5 857.6,635.9 855.6,635.9 855.6,640.5 850.2,640.5 850.2,643.9 847.7,643.9 847.7,676.6 845.3,676.6 845.3,679.2 842.7,679.2 842.7,679.2 840.3,679.2 840.3,676.6 837.7,676.6 837.7,645.8 832.8,645.8 832.8,650.8 829.8,650.8 829.8,653.8 827.4,653.8 827.4,694.5 824.8,694.5 824.8,697.1 822.4,697.1 822.4,697.1 819.9,697.1 819.9,694.5 817.5,694.5 817.5,673.6 814.9,673.6 814.9,676.6 812.3,676.6 812.3,676.6 809.9,676.6 809.9,655.8 807.3,655.8 807.3,658.7 805.0,658.7 805.0,663.7 802.4,663.7 802.4,663.7 800.0,663.7 800.0,661.1 797.2,661.1 797.2,666.3 794.2,666.3 794.2,671.3 791.7,671.3 791.7,671.3 788.9,671.3 788.9,668.7 786.3,668.7 786.3,661.1 783.9,661.1 783.9,658.7 781.3,658.7 781.3,658.7 778.4,658.7 778.4,673.6 776.0,673.6 776.0,676.6 773.4,676.6 773.4,679.2 771.0,679.2 771.0,676.6 768.4,676.6 768.4,679.2 763.5,679.2 763.5,676.6 761.1,676.6 761.1,673.6 758.5,673.6 758.5,671.3 755.5,671.3 755.5,658.7 753.5,658.7 753.5,650.8 750.7,650.8 750.7,650.8 748.2,650.8 748.2,666.7 745.6,666.7 745.6,669.1 743.2,669.1 743.2,666.7 740.6,666.7 740.6,640.9 738.2,640.9 738.2,640.9 735.7,640.9 735.7,650.8 732.7,650.8 732.7,692.1 728.7,692.1 728.7,689.5 725.7,689.5 725.7,676.6 722.7,676.6 722.7,674.6 720.2,674.6 720.2,666.3 717.8,666.3 717.8,668.7 715.4,668.7 715.4,666.3 712.4,666.3 712.4,658.7 709.8,658.7 709.8,661.1 707.4,661.1 707.4,658.7 704.9,658.7 704.9,626.0 702.5,626.0 702.5,633.3 699.9,633.3 699.9,640.9 697.5,640.9 697.5,640.9 694.9,640.9 694.9,638.3 692.4,638.3 692.4,638.3 689.6,638.3 689.6,635.5 687.0,635.5 687.0,633.3 684.6,633.3 684.6,633.3 682.0,633.3 682.0,633.3 679.6,633.3 679.6,623.0 674.1,623.0 674.1,623.0 671.7,623.0 671.7,635.5 669.1,635.5 669.1,635.5 666.7,635.5 666.7,632.9 664.2,632.9 664.2,630.9 661.8,630.9 661.8,623.0 659.2,623.0 659.2,625.6 656.8,625.6 656.8,625.6 654.2,625.6 654.2,623.0 651.2,623.0 651.2,589.8 648.9,589.8 648.9,592.6 643.9,592.6 643.9,587.2 641.3,587.2 641.3,587.2 638.9,587.2 638.9,584.9 636.3,584.9 636.3,577.3 634.0,577.3 634.0,577.3 631.4,577.3 631.4,567.0 628.8,567.0 628.8,559.4 626.0,559.4 626.0,544.5 623.4,544.5 623.4,574.9 621.1,574.9 621.1,574.9 618.5,574.9 618.5,592.8 616.1,592.8 616.1,595.2 613.5,595.2 613.5,592.8 610.5,592.8 610.5,582.3 608.1,582.3 608.1,592.8 605.8,592.8 605.8,615.5 603.2,615.5 603.2,615.5 600.6,615.5 600.6,615.5 598.2,615.5 598.2,603.1 595.6,603.1 595.6,600.2 593.0,600.2 593.0,613.1 590.7,613.1 590.7,615.5 587.9,615.5 587.9,615.5 585.3,615.5 585.3,613.1 582.7,613.1 582.7,598.2 580.3,598.2 580.3,603.1 577.8,603.1 577.8,610.1 575.2,610.1 575.2,610.1 572.8,610.1 572.8,610.1 569.8,610.1 569.8,607.7 567.4,607.7 567.4,605.1 564.8,605.1 564.8,600.2 559.9,600.2 559.9,603.1 557.5,603.1 557.5,610.1 554.9,610.1 554.9,615.1 552.5,615.1 552.5,615.1 550.0,615.1 550.0,615.1 547.0,615.1 547.0,610.1 544.6,610.1 544.6,603.1 542.0,603.1 542.0,605.1 539.6,605.1 539.6,615.1 537.0,615.1 537.0,628.0 532.1,628.0 532.1,626.0 529.1,626.0 529.1,598.2 526.7,598.2 526.7,605.1 524.1,605.1 524.1,610.1 521.5,610.1 521.5,635.9 519.2,635.9 519.2,638.5 516.6,638.5 516.6,635.9 514.2,635.9 514.2,608.1 511.6,608.1 511.6,608.1 508.8,608.1 508.8,610.1 506.3,610.1 506.3,615.1 503.3,615.1 503.3,615.1 499.3,615.1 499.3,605.1 496.3,605.1 496.3,600.2 493.3,600.2 493.3,600.2 491.0,600.2 491.0,605.1 488.4,605.1 488.4,610.1 486.0,610.1 486.0,613.1 483.4,613.1 483.4,632.9 481.0,632.9 481.0,635.5 478.5,635.5 478.5,635.5 475.5,635.5 475.5,619.0 470.5,619.0 470.5,621.0 468.1,621.0 468.1,628.0 465.5,628.0 465.5,630.5 463.2,630.5 463.2,628.0 460.6,628.0 460.6,620.0 458.0,620.0 458.0,617.0 455.6,617.0 455.6,605.1 452.6,605.1 452.6,615.1 447.7,615.1 447.7,615.1 445.3,615.1 445.3,598.2 440.3,598.2 440.3,626.0 437.7,626.0 437.7,683.6 435.4,683.6 435.4,730.2 432.8,730.2 432.8,737.2 430.2,737.2 430.2,750.1 427.8,750.1 427.8,752.1 424.8,752.1 424.8,755.1 419.9,755.1 419.9,805.7 412.3,805.7 412.3,775.9 409.9,775.9Z" fill="#FDC112"/>
</g>
<g stroke="#000" stroke-width="7.7" stroke-linecap="butt" fill="none">
<line x1="269.4" y1="48.7" x2="2196.9" y2="48.7"/>
<line x1="298.75" y1="44.85" x2="298.75" y2="1582.10"/>
<line x1="284.6" y1="1578.25" x2="2201.75" y2="1578.25"/>
<line x1="2197.9" y1="47.5" x2="2197.9" y2="1607.2"/>
<line x1="352.2" y1="1578.25" x2="352.2" y2="1607.2"/>
<line x1="617.2" y1="1578.25" x2="617.2" y2="1607.2"/>
<line x1="879.7" y1="1578.25" x2="879.7" y2="1607.2"/>
<line x1="1142.2" y1="1578.25" x2="1142.2" y2="1607.2"/>
<line x1="1407.2" y1="1578.25" x2="1407.2" y2="1607.2"/>
<line x1="1669.7" y1="1578.25" x2="1669.7" y2="1607.2"/>
<line x1="1934.7" y1="1578.25" x2="1934.7" y2="1607.2"/>
<line x1="484.7" y1="1578.25" x2="484.7" y2="1592.0"/>
<line x1="747.2" y1="1578.25" x2="747.2" y2="1592.0"/>
<line x1="1012.2" y1="1578.25" x2="1012.2" y2="1592.0"/>
<line x1="1274.7" y1="1578.25" x2="1274.7" y2="1592.0"/>
<line x1="1539.7" y1="1578.25" x2="1539.7" y2="1592.0"/>
<line x1="1802.2" y1="1578.25" x2="1802.2" y2="1592.0"/>
<line x1="2064.7" y1="1578.25" x2="2064.7" y2="1592.0"/>
<line x1="269.4" y1="1440.6" x2="298.75" y2="1440.6"/>
<line x1="269.4" y1="1160.2" x2="298.75" y2="1160.2"/>
<line x1="269.4" y1="882.5" x2="298.75" y2="882.5"/>
<line x1="269.4" y1="604.4" x2="298.75" y2="604.4"/>
<line x1="269.4" y1="326.2" x2="298.75" y2="326.2"/>
<line x1="284.6" y1="1300.2" x2="298.75" y2="1300.2"/>
<line x1="284.6" y1="1022.2" x2="298.75" y2="1022.2"/>
<line x1="284.6" y1="744.5" x2="298.75" y2="744.5"/>
<line x1="284.6" y1="466.4" x2="298.75" y2="466.4"/>
<line x1="284.6" y1="188.7" x2="298.75" y2="188.7"/>
</g>
<text class="t k" x="350.3" y="1678.8" font-size="65.8" letter-spacing="-1.0" text-anchor="middle">0</text>
<text class="t k" x="615.3" y="1678.8" font-size="65.8" letter-spacing="-1.0" text-anchor="middle">500</text>
<text class="t k" x="877.8" y="1678.8" font-size="65.8" letter-spacing="-1.0" text-anchor="middle">1000</text>
<text class="t k" x="1140.3" y="1678.8" font-size="65.8" letter-spacing="-1.0" text-anchor="middle">1500</text>
<text class="t k" x="1405.3" y="1678.8" font-size="65.8" letter-spacing="-1.0" text-anchor="middle">2000</text>
<text class="t k" x="1667.8" y="1678.8" font-size="65.8" letter-spacing="-1.0" text-anchor="middle">2500</text>
<text class="t k" x="1932.8" y="1678.8" font-size="65.8" letter-spacing="-1.0" text-anchor="middle">3000</text>
<text class="t k" x="2195.3" y="1678.8" font-size="65.8" letter-spacing="-1.0" text-anchor="middle">3500</text>
<text class="t k" x="245.8" y="1456.9" font-size="65.8" letter-spacing="-1.0" text-anchor="end">0</text>
<text class="t k" x="245.8" y="1178.8" font-size="65.8" letter-spacing="-1.0" text-anchor="end">500</text>
<text class="t k" x="245.8" y="900.5" font-size="65.8" letter-spacing="-1.0" text-anchor="end">1000</text>
<text class="t k" x="245.8" y="622.4" font-size="65.8" letter-spacing="-1.0" text-anchor="end">1500</text>
<text class="t k" x="245.8" y="344.5" font-size="65.8" letter-spacing="-1.0" text-anchor="end">2000</text>
<text class="t k" x="245.8" y="65.1" font-size="65.8" letter-spacing="-1.0" text-anchor="end">2500</text>
<text class="t" x="888.4 944.8 989.2 1059.6 1104.5 1152.7 1172.0 1218.4 1265.8 1287.6 1315.4 1341.7 1364.0 1390.4 1432.3" y="1771.0" font-size="79.0" stroke="#fff" stroke-width="1.2">Raman shift (cm<tspan x="1500.6" dy="-14.9" font-size="95.0">−</tspan><tspan x="1551.9" dy="-19.1" font-size="55.0">1</tspan><tspan x="1581.4" dy="34">)</tspan></text>
<text class="t" transform="translate(81.3,757.5) rotate(-90)" x="-269.0 -248.8 -201.2 -172.9 -128.7 -81.0 -37.7 -14.4 12.6 56.6 75.2 105.4 148.8 171.7 219.4 243.4" y="0" font-size="79.0" stroke="#fff" stroke-width="1.2">Intensity (a.u.)</text>
<rect x="342.3" y="87.0" width="568.4" height="242.0" fill="#fff" stroke="#000" stroke-width="2.6"/>
<line x1="349.5" y1="132.5" x2="488.2" y2="132.5" stroke="#EB0000" stroke-width="7.8" stroke-linecap="round"/>
<text class="t" x="505.7" y="151.5" font-size="62.5" letter-spacing="-0.7">NCS</text>
<line x1="349.5" y1="209.0" x2="488.2" y2="209.0" stroke="#33669A" stroke-width="7.8" stroke-linecap="round"/>
<text class="t" x="505.7" y="228.1" font-size="62.5" letter-spacing="-0.7">NCS@G (000)</text>
<line x1="349.5" y1="287.8" x2="488.2" y2="287.8" stroke="#FDC112" stroke-width="7.8" stroke-linecap="round"/>
<text class="t" x="505.7" y="307.3" font-size="62.5" letter-spacing="-0.7">NCS@G (111)</text>
<text class="s" x="1055.0" y="199.2" font-size="62" letter-spacing="-1.0" stroke="#fff" stroke-width="1.1" text-anchor="middle">1347</text>
<text class="s" x="1199.0" y="320.9" font-size="62" letter-spacing="-1.0" stroke="#fff" stroke-width="1.1" text-anchor="middle">1580</text>
<text class="s" y="518.0" font-size="63.5"><tspan x="1570.8">I</tspan><tspan x="1595.3" font-size="35" font-weight="normal" stroke="#000" stroke-width="0.7">D</tspan><tspan x="1621.2" font-size="62">/</tspan><tspan x="1638.8">I</tspan><tspan x="1662.3" font-size="35" font-weight="normal" stroke="#000" stroke-width="0.7">G </tspan><tspan x="1696.0" dy="2.0" font-size="60" stroke="#000" stroke-width="0.7">= </tspan><tspan x="1738.2" dy="-2.0" font-size="62" letter-spacing="-0.8" stroke="#fff" stroke-width="1.0">1.10</tspan></text>
<text class="s" y="823.0" font-size="63.5"><tspan x="1570.8">I</tspan><tspan x="1595.3" font-size="35" font-weight="normal" stroke="#000" stroke-width="0.7">D</tspan><tspan x="1621.2" font-size="62">/</tspan><tspan x="1638.8">I</tspan><tspan x="1662.3" font-size="35" font-weight="normal" stroke="#000" stroke-width="0.7">G </tspan><tspan x="1696.0" dy="2.0" font-size="60" stroke="#000" stroke-width="0.7">= </tspan><tspan x="1738.2" dy="-2.0" font-size="62" letter-spacing="-0.8" stroke="#fff" stroke-width="1.0">1.07</tspan></text>
</svg></body></html>
